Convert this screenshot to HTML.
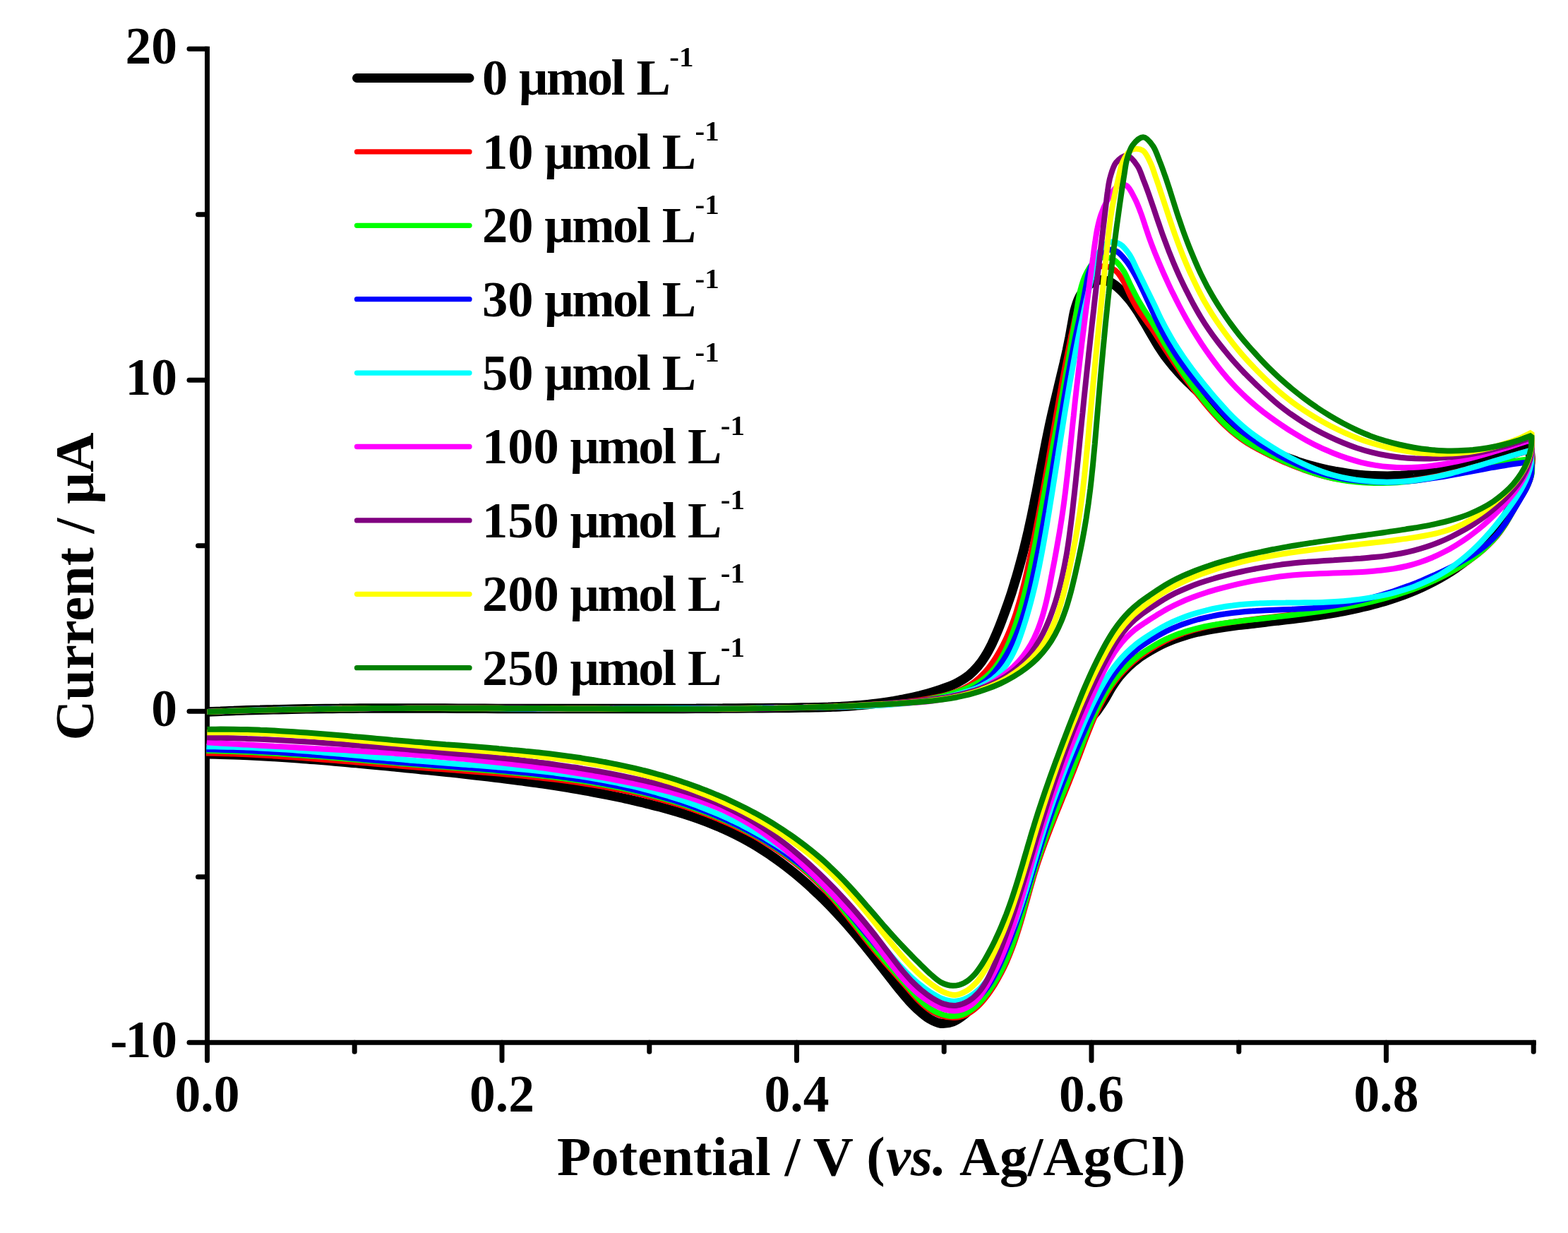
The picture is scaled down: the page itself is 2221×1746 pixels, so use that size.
<!DOCTYPE html>
<html><head><meta charset="utf-8"><title>Cyclic voltammograms</title>
<style>html,body{margin:0;padding:0;background:#fff}svg{display:block}</style></head>
<body>
<svg width="2221" height="1746" viewBox="0 0 2221 1746" font-family='"Liberation Serif", serif' font-weight="bold">
<rect width="2221" height="1746" fill="#fff"/>
<g stroke="#000" stroke-width="7" stroke-linecap="round" fill="none">
<path d="M293.5 69.29999999999995V1476.3H2172.25" stroke-linejoin="miter" stroke-linecap="square"/>
<path d="M293.5 69.3h-25.5"/>
<path d="M293.5 303.8h-13"/>
<path d="M293.5 538.3h-25.5"/>
<path d="M293.5 772.8h-13"/>
<path d="M293.5 1007.3h-25.5"/>
<path d="M293.5 1241.8h-13"/>
<path d="M293.5 1476.3h-25.5"/>
<path d="M293.5 1476.3v25.5"/>
<path d="M502.2 1476.3v13"/>
<path d="M711.0 1476.3v25.5"/>
<path d="M919.8 1476.3v13"/>
<path d="M1128.5 1476.3v25.5"/>
<path d="M1337.2 1476.3v13"/>
<path d="M1546.0 1476.3v25.5"/>
<path d="M1754.8 1476.3v13"/>
<path d="M1963.5 1476.3v25.5"/>
<path d="M2172.2 1476.3v13"/>
</g>
<g fill="none" stroke-linejoin="bevel" stroke-linecap="butt">
<path d="M293.5 1008.0C296.6 1007.9 305.9 1007.4 312.2 1007.2C318.4 1006.9 324.6 1006.7 330.8 1006.5C337.1 1006.2 343.3 1006.0 349.5 1005.8C355.7 1005.6 362.0 1005.4 368.2 1005.3C374.4 1005.1 380.7 1004.9 386.9 1004.8C393.1 1004.6 399.4 1004.5 405.6 1004.4C411.8 1004.2 418.1 1004.1 424.3 1004.0C430.5 1003.9 436.8 1003.8 443.0 1003.7C449.3 1003.6 455.5 1003.6 461.7 1003.5C468.0 1003.4 474.2 1003.4 480.5 1003.3C486.7 1003.2 492.9 1003.2 499.2 1003.2C505.4 1003.1 511.7 1003.1 517.9 1003.1C524.2 1003.0 530.4 1003.0 536.6 1003.0C542.9 1003.0 549.1 1003.0 555.4 1003.0C561.6 1003.0 567.9 1003.0 574.1 1003.0C580.4 1003.0 586.6 1003.0 592.8 1003.0C599.1 1003.0 605.3 1003.0 611.6 1003.0C617.8 1003.1 624.1 1003.1 630.3 1003.1C636.6 1003.1 642.8 1003.1 649.1 1003.2C655.3 1003.2 661.5 1003.2 667.8 1003.2C674.0 1003.3 680.3 1003.3 686.5 1003.3C692.8 1003.3 699.0 1003.3 705.3 1003.4C711.5 1003.4 717.8 1003.4 724.0 1003.4C730.2 1003.4 736.5 1003.5 742.7 1003.5C749.0 1003.5 755.2 1003.5 761.5 1003.5C767.7 1003.5 773.9 1003.5 780.2 1003.6C786.4 1003.6 792.7 1003.6 798.9 1003.6C805.2 1003.6 811.4 1003.6 817.6 1003.6C823.9 1003.6 830.1 1003.6 836.4 1003.6C842.6 1003.6 848.9 1003.6 855.1 1003.6C861.3 1003.6 867.6 1003.6 873.8 1003.6C880.1 1003.6 886.3 1003.6 892.5 1003.6C898.8 1003.5 905.0 1003.5 911.3 1003.5C917.5 1003.5 923.8 1003.5 930.0 1003.5C936.2 1003.5 942.5 1003.4 948.7 1003.4C955.0 1003.4 961.2 1003.4 967.4 1003.4C973.7 1003.3 979.9 1003.3 986.2 1003.3C992.4 1003.2 998.7 1003.2 1004.9 1003.2C1011.1 1003.2 1017.4 1003.1 1023.6 1003.1C1029.9 1003.0 1036.1 1003.0 1042.4 1003.0C1048.6 1002.9 1054.8 1002.9 1061.1 1002.8C1067.3 1002.8 1073.6 1002.7 1079.8 1002.7C1086.1 1002.6 1092.3 1002.6 1098.5 1002.5C1104.8 1002.5 1111.0 1002.4 1117.3 1002.4C1123.5 1002.3 1129.8 1002.2 1136.0 1002.1C1142.2 1002.1 1148.5 1002.0 1154.7 1001.8C1161.0 1001.7 1167.2 1001.5 1173.4 1001.3C1179.7 1001.0 1185.9 1000.8 1192.1 1000.4C1198.3 1000.1 1204.5 999.7 1210.7 999.2C1217.0 998.8 1223.2 998.2 1229.3 997.6C1235.5 997.0 1241.7 996.2 1247.9 995.4C1254.1 994.6 1260.2 993.7 1266.4 992.7C1272.5 991.6 1278.7 990.5 1284.8 989.2C1290.9 987.9 1297.0 986.5 1303.1 985.0C1309.2 983.4 1315.3 981.8 1321.4 979.9C1327.4 978.1 1333.6 976.2 1339.5 973.9C1345.4 971.7 1351.4 969.3 1356.8 966.4C1362.3 963.5 1367.5 960.2 1372.2 956.5C1376.9 952.7 1381.2 948.3 1385.1 943.7C1389.0 939.1 1392.5 934.0 1395.8 928.7C1399.1 923.5 1402.0 917.8 1404.8 912.2C1407.6 906.5 1410.1 900.6 1412.6 894.7C1415.1 888.8 1417.4 882.8 1419.6 876.9C1421.9 871.0 1424.0 865.1 1426.1 859.1C1428.2 853.2 1430.2 847.3 1432.2 841.4C1434.1 835.4 1435.9 829.5 1437.7 823.6C1439.5 817.6 1441.3 811.7 1442.9 805.7C1444.6 799.8 1446.2 793.8 1447.8 787.8C1449.4 781.8 1450.9 775.8 1452.3 769.8C1453.8 763.8 1455.2 757.8 1456.6 751.7C1457.9 745.7 1459.3 739.6 1460.6 733.5C1461.9 727.4 1463.1 721.2 1464.4 715.1C1465.6 708.9 1466.8 702.8 1468.1 696.6C1469.3 690.5 1470.5 684.3 1471.6 678.1C1472.8 671.9 1474.0 665.7 1475.2 659.5C1476.4 653.4 1477.6 647.2 1478.8 641.0C1480.0 634.9 1481.2 628.7 1482.4 622.6C1483.7 616.4 1484.9 610.3 1486.2 604.2C1487.5 598.1 1488.8 592.1 1490.2 586.0C1491.6 580.0 1493.0 574.0 1494.4 568.0C1495.8 562.0 1497.3 556.0 1498.7 550.0C1500.1 544.0 1501.6 538.1 1503.0 532.0C1504.5 526.0 1505.9 520.0 1507.3 514.0C1508.7 507.9 1510.1 501.9 1511.4 495.8C1512.7 489.6 1514.0 483.5 1515.2 477.3C1516.4 471.0 1517.4 464.7 1518.6 458.4C1519.8 452.1 1520.7 445.6 1522.3 439.5C1524.0 433.3 1525.7 427.1 1528.6 421.5C1531.5 415.9 1535.2 410.0 1539.6 406.0C1544.0 401.9 1549.6 398.2 1555.0 397.0C1560.3 395.9 1566.4 397.0 1571.8 399.3C1577.1 401.5 1582.4 406.1 1587.1 410.4C1591.8 414.7 1596.1 420.0 1600.1 424.9C1604.1 429.9 1607.6 435.1 1611.1 440.3C1614.5 445.5 1617.6 450.9 1620.8 456.1C1624.0 461.4 1626.9 466.6 1630.1 472.0C1633.3 477.4 1636.4 483.0 1639.8 488.5C1643.3 493.9 1646.9 499.4 1650.7 504.7C1654.6 509.9 1658.7 514.9 1662.8 519.9C1667.0 524.8 1671.4 529.7 1675.8 534.3C1680.2 538.9 1684.7 543.1 1689.2 547.5C1693.7 551.8 1698.2 556.1 1702.7 560.4C1707.1 564.8 1711.6 569.2 1715.8 573.7C1720.1 578.3 1724.2 583.0 1728.4 587.6C1732.5 592.2 1736.4 597.1 1740.6 601.5C1744.7 606.0 1748.9 610.4 1753.5 614.2C1758.0 618.0 1762.9 621.4 1768.0 624.4C1773.1 627.3 1778.6 629.5 1784.1 632.0C1789.6 634.5 1795.4 636.9 1801.1 639.3C1806.8 641.8 1812.7 644.3 1818.5 646.6C1824.4 648.9 1830.3 651.0 1836.3 653.0C1842.2 655.1 1848.2 656.9 1854.3 658.7C1860.3 660.4 1866.4 662.0 1872.5 663.5C1878.6 665.0 1884.7 666.3 1890.9 667.5C1897.0 668.6 1903.2 669.6 1909.4 670.4C1915.6 671.3 1921.8 672.0 1928.0 672.6C1934.3 673.1 1940.5 673.6 1946.7 673.8C1953.0 674.1 1959.2 674.2 1965.4 674.2C1971.7 674.1 1977.9 673.9 1984.1 673.6C1990.3 673.2 1996.5 672.6 2002.7 671.9C2008.9 671.2 2015.0 670.3 2021.2 669.3C2027.3 668.2 2033.4 667.0 2039.5 665.7C2045.6 664.4 2051.7 663.0 2057.8 661.5C2063.8 660.0 2069.9 658.3 2075.9 656.7C2082.0 655.0 2088.0 653.3 2094.0 651.5C2100.0 649.8 2106.1 647.9 2112.1 646.2C2118.1 644.4 2124.1 642.6 2130.1 640.8C2136.1 639.1 2142.0 637.3 2148.0 635.6C2154.0 634.0 2163.0 631.6 2166.0 630.8L2166.0 630.8C2166.3 634.1 2168.2 644.4 2168.0 650.8C2167.8 657.2 2166.5 663.2 2164.8 669.1C2163.2 675.0 2160.6 680.6 2158.0 686.3C2155.3 691.9 2152.1 697.3 2149.0 702.8C2145.9 708.3 2142.6 713.8 2139.4 719.2C2136.2 724.7 2133.1 730.2 2129.7 735.6C2126.3 740.9 2122.9 746.3 2119.1 751.3C2115.3 756.4 2111.2 761.3 2107.0 766.1C2102.7 770.8 2098.2 775.3 2093.5 779.7C2088.8 784.1 2083.9 788.3 2078.9 792.3C2073.9 796.3 2068.7 800.1 2063.4 803.8C2058.1 807.4 2052.7 810.9 2047.3 814.2C2041.8 817.5 2036.3 820.6 2030.7 823.5C2025.1 826.4 2019.5 829.2 2013.8 831.8C2008.1 834.4 2002.3 836.9 1996.5 839.2C1990.7 841.5 1984.9 843.7 1979.0 845.7C1973.1 847.8 1967.2 849.7 1961.2 851.5C1955.2 853.2 1949.2 854.9 1943.1 856.5C1937.1 858.1 1931.0 859.5 1924.9 860.9C1918.7 862.3 1912.6 863.6 1906.4 864.8C1900.2 866.1 1894.0 867.2 1887.7 868.3C1881.5 869.3 1875.2 870.3 1868.9 871.3C1862.6 872.3 1856.3 873.1 1849.9 874.0C1843.6 874.9 1837.2 875.7 1830.9 876.5C1824.5 877.3 1818.1 878.0 1811.7 878.8C1805.4 879.5 1798.9 880.2 1792.5 881.0C1786.1 881.7 1779.7 882.4 1773.3 883.2C1766.9 883.9 1760.5 884.6 1754.1 885.4C1747.6 886.3 1741.2 887.1 1734.9 888.0C1728.5 888.9 1722.1 889.9 1715.8 891.0C1709.6 892.2 1703.3 893.4 1697.1 894.8C1691.0 896.3 1684.8 897.9 1678.8 899.7C1672.8 901.5 1666.9 903.4 1661.1 905.7C1655.3 908.0 1649.6 910.5 1644.0 913.2C1638.5 916.0 1633.0 919.1 1627.7 922.2C1622.5 925.4 1617.3 928.5 1612.4 932.2C1607.4 935.8 1602.6 939.8 1598.1 944.1C1593.6 948.5 1589.1 953.2 1585.2 958.1C1581.3 963.0 1577.8 968.3 1574.5 973.5C1571.2 978.7 1568.5 984.2 1565.3 989.4C1562.1 994.6 1558.8 999.7 1555.3 1004.7C1551.7 1009.6 1547.5 1014.2 1543.9 1019.2C1540.3 1024.3 1536.9 1029.6 1533.7 1035.0C1530.5 1040.4 1527.7 1046.0 1524.9 1051.7C1522.1 1057.4 1519.6 1063.2 1517.1 1069.0C1514.6 1074.8 1512.2 1080.7 1509.9 1086.6C1507.5 1092.5 1505.3 1098.4 1503.1 1104.4C1500.9 1110.3 1498.8 1116.3 1496.7 1122.3C1494.6 1128.3 1492.6 1134.3 1490.6 1140.3C1488.6 1146.4 1486.6 1152.4 1484.7 1158.5C1482.8 1164.5 1480.9 1170.6 1479.0 1176.7C1477.2 1182.8 1475.3 1188.9 1473.5 1195.0C1471.6 1201.1 1469.8 1207.2 1468.0 1213.2C1466.2 1219.3 1464.4 1225.4 1462.5 1231.5C1460.7 1237.6 1458.8 1243.7 1457.0 1249.8C1455.1 1255.8 1453.2 1261.9 1451.3 1267.9C1449.4 1274.0 1447.4 1280.0 1445.4 1286.0C1443.4 1292.0 1441.4 1298.0 1439.3 1304.0C1437.2 1309.9 1435.1 1315.9 1432.9 1321.8C1430.6 1327.7 1428.4 1333.6 1425.9 1339.4C1423.5 1345.2 1421.1 1351.0 1418.4 1356.7C1415.8 1362.5 1413.1 1368.2 1410.2 1373.8C1407.3 1379.4 1404.3 1385.0 1401.0 1390.5C1397.8 1396.0 1394.5 1401.5 1390.8 1406.8C1387.2 1412.1 1383.6 1417.6 1379.4 1422.5C1375.3 1427.5 1370.9 1432.5 1366.0 1436.5C1361.0 1440.5 1355.4 1444.5 1349.9 1446.6C1344.3 1448.7 1338.3 1449.8 1332.7 1449.2C1327.1 1448.5 1321.5 1445.6 1316.2 1442.5C1310.9 1439.4 1305.8 1434.8 1301.0 1430.5C1296.2 1426.2 1291.7 1421.5 1287.3 1416.8C1283.0 1412.0 1278.9 1407.1 1274.9 1402.1C1270.8 1397.2 1266.9 1392.1 1263.0 1387.1C1259.1 1382.0 1255.2 1377.0 1251.3 1372.0C1247.3 1367.0 1243.4 1362.0 1239.5 1357.0C1235.6 1352.1 1231.6 1347.1 1227.6 1342.2C1223.6 1337.3 1219.7 1332.4 1215.6 1327.6C1211.6 1322.7 1207.5 1317.9 1203.3 1313.1C1199.2 1308.4 1195.0 1303.6 1190.7 1299.0C1186.5 1294.3 1182.2 1289.7 1177.8 1285.1C1173.4 1280.5 1168.9 1276.0 1164.4 1271.5C1159.8 1267.1 1155.2 1262.7 1150.5 1258.4C1145.9 1254.1 1141.1 1249.8 1136.3 1245.7C1131.5 1241.5 1126.6 1237.4 1121.7 1233.5C1116.7 1229.5 1111.7 1225.6 1106.6 1221.8C1101.5 1218.0 1096.3 1214.3 1091.1 1210.8C1085.9 1207.2 1080.5 1203.7 1075.2 1200.4C1069.8 1197.1 1064.4 1193.8 1058.9 1190.8C1053.3 1187.7 1047.8 1184.7 1042.1 1181.9C1036.5 1179.1 1030.8 1176.4 1025.0 1173.8C1019.2 1171.2 1013.4 1168.8 1007.5 1166.4C1001.6 1164.1 995.7 1161.9 989.7 1159.7C983.8 1157.6 977.7 1155.5 971.7 1153.6C965.6 1151.6 959.6 1149.8 953.5 1148.0C947.3 1146.2 941.2 1144.5 935.1 1142.8C928.9 1141.2 922.7 1139.6 916.5 1138.1C910.4 1136.6 904.2 1135.1 898.0 1133.7C891.8 1132.2 885.6 1130.9 879.4 1129.5C873.1 1128.2 866.9 1126.9 860.7 1125.6C854.5 1124.4 848.3 1123.2 842.0 1122.0C835.8 1120.8 829.6 1119.7 823.3 1118.6C817.1 1117.5 810.8 1116.4 804.6 1115.4C798.3 1114.4 792.1 1113.4 785.8 1112.4C779.6 1111.5 773.3 1110.5 767.0 1109.6C760.8 1108.7 754.5 1107.8 748.2 1107.0C741.9 1106.1 735.7 1105.3 729.4 1104.5C723.1 1103.7 716.8 1102.9 710.5 1102.1C704.2 1101.3 697.9 1100.6 691.6 1099.8C685.4 1099.1 679.1 1098.4 672.8 1097.7C666.5 1097.0 660.2 1096.3 653.9 1095.6C647.6 1094.9 641.3 1094.2 634.9 1093.6C628.6 1092.9 622.3 1092.3 616.0 1091.6C609.7 1091.0 603.4 1090.3 597.1 1089.7C590.8 1089.0 584.5 1088.4 578.2 1087.8C571.9 1087.1 565.5 1086.5 559.2 1085.9C552.9 1085.2 546.6 1084.6 540.3 1084.0C534.0 1083.4 527.7 1082.8 521.3 1082.2C515.0 1081.6 508.7 1081.0 502.4 1080.4C496.1 1079.9 489.7 1079.3 483.4 1078.7C477.1 1078.2 470.8 1077.6 464.5 1077.1C458.1 1076.6 451.8 1076.1 445.5 1075.6C439.2 1075.1 432.8 1074.6 426.5 1074.2C420.2 1073.7 413.9 1073.3 407.5 1072.8C401.2 1072.4 394.9 1072.0 388.5 1071.6C382.2 1071.2 375.9 1070.9 369.5 1070.5C363.2 1070.2 356.9 1069.9 350.5 1069.6C344.2 1069.3 337.9 1069.0 331.5 1068.8C325.2 1068.6 318.9 1068.4 312.5 1068.2C306.2 1068.0 296.7 1067.8 293.5 1067.7" stroke="#000000" stroke-width="13.5"/>
<path d="M293.5 1008.0C296.7 1007.9 306.2 1007.5 312.6 1007.2C319.0 1007.0 325.4 1006.7 331.7 1006.5C338.1 1006.3 344.5 1006.1 350.8 1005.9C357.2 1005.7 363.6 1005.5 370.0 1005.3C376.3 1005.2 382.7 1005.0 389.1 1004.8C395.5 1004.7 401.9 1004.6 408.2 1004.4C414.6 1004.3 421.0 1004.2 427.4 1004.1C433.7 1004.0 440.1 1003.9 446.5 1003.8C452.9 1003.7 459.3 1003.6 465.7 1003.5C472.0 1003.4 478.4 1003.4 484.8 1003.3C491.2 1003.3 497.6 1003.2 503.9 1003.2C510.3 1003.1 516.7 1003.1 523.1 1003.0C529.5 1003.0 535.9 1003.0 542.3 1003.0C548.6 1003.0 555.0 1002.9 561.4 1002.9C567.8 1002.9 574.2 1002.9 580.6 1002.9C587.0 1002.9 593.3 1002.9 599.7 1002.9C606.1 1002.9 612.5 1002.9 618.9 1003.0C625.3 1003.0 631.7 1003.0 638.1 1003.0C644.4 1003.0 650.8 1003.0 657.2 1003.1C663.6 1003.1 670.0 1003.1 676.4 1003.1C682.8 1003.2 689.2 1003.2 695.6 1003.2C702.0 1003.2 708.3 1003.3 714.7 1003.3C721.1 1003.3 727.5 1003.3 733.9 1003.4C740.3 1003.4 746.7 1003.4 753.1 1003.4C759.5 1003.5 765.9 1003.5 772.2 1003.5C778.6 1003.5 785.0 1003.5 791.4 1003.6C797.8 1003.6 804.2 1003.6 810.6 1003.6C817.0 1003.6 823.4 1003.6 829.8 1003.7C836.2 1003.7 842.5 1003.7 848.9 1003.7C855.3 1003.7 861.7 1003.7 868.1 1003.7C874.5 1003.7 880.9 1003.7 887.3 1003.7C893.7 1003.7 900.0 1003.7 906.4 1003.7C912.8 1003.7 919.2 1003.7 925.6 1003.7C932.0 1003.7 938.4 1003.7 944.8 1003.6C951.1 1003.6 957.5 1003.6 963.9 1003.6C970.3 1003.5 976.7 1003.5 983.1 1003.5C989.5 1003.4 995.8 1003.4 1002.2 1003.4C1008.6 1003.3 1015.0 1003.3 1021.4 1003.2C1027.8 1003.2 1034.1 1003.1 1040.5 1003.1C1046.9 1003.0 1053.3 1002.9 1059.7 1002.9C1066.1 1002.8 1072.4 1002.7 1078.8 1002.7C1085.2 1002.6 1091.6 1002.5 1097.9 1002.4C1104.3 1002.3 1110.7 1002.2 1117.1 1002.1C1123.5 1002.0 1129.8 1001.9 1136.2 1001.8C1142.6 1001.7 1149.0 1001.6 1155.3 1001.4C1161.7 1001.3 1168.1 1001.2 1174.4 1001.0C1180.8 1000.8 1187.2 1000.7 1193.6 1000.5C1199.9 1000.2 1206.3 1000.0 1212.7 999.7C1219.1 999.4 1225.4 999.1 1231.8 998.7C1238.2 998.3 1244.6 997.9 1251.0 997.3C1257.3 996.8 1263.7 996.2 1270.1 995.6C1276.5 994.9 1282.9 994.2 1289.3 993.3C1295.7 992.5 1302.1 991.6 1308.5 990.5C1314.9 989.4 1321.4 988.4 1327.7 987.0C1334.0 985.6 1340.3 984.1 1346.4 982.2C1352.4 980.3 1358.4 978.1 1364.0 975.4C1369.6 972.7 1375.0 969.5 1380.0 965.8C1385.0 962.1 1389.6 957.7 1393.9 953.1C1398.3 948.5 1402.2 943.3 1405.9 938.1C1409.7 932.8 1413.0 927.2 1416.2 921.6C1419.4 916.0 1422.3 910.3 1425.0 904.5C1427.7 898.7 1430.1 892.8 1432.4 886.9C1434.7 881.0 1436.8 875.0 1438.8 868.9C1440.7 862.9 1442.5 856.8 1444.3 850.7C1446.0 844.5 1447.6 838.3 1449.1 832.2C1450.7 826.0 1452.1 819.7 1453.6 813.5C1455.0 807.3 1456.4 801.0 1457.7 794.8C1459.1 788.5 1460.4 782.3 1461.8 776.0C1463.1 769.7 1464.3 763.5 1465.6 757.2C1466.9 750.9 1468.1 744.6 1469.3 738.3C1470.5 732.0 1471.7 725.7 1472.9 719.4C1474.1 713.1 1475.2 706.8 1476.3 700.5C1477.5 694.2 1478.6 687.9 1479.7 681.6C1480.9 675.3 1482.0 669.0 1483.1 662.7C1484.2 656.4 1485.3 650.1 1486.3 643.8C1487.4 637.5 1488.5 631.2 1489.6 624.9C1490.7 618.6 1491.8 612.3 1492.9 606.0C1494.0 599.7 1495.1 593.4 1496.2 587.1C1497.3 580.8 1498.4 574.5 1499.5 568.3C1500.6 562.0 1501.7 555.7 1502.9 549.5C1504.0 543.2 1505.1 537.0 1506.3 530.7C1507.5 524.5 1508.7 518.3 1509.9 512.1C1511.1 505.9 1512.3 499.7 1513.6 493.5C1514.8 487.3 1516.1 481.1 1517.4 474.9C1518.7 468.8 1520.0 462.7 1521.4 456.5C1522.8 450.3 1524.1 444.2 1525.7 437.9C1527.3 431.6 1528.8 425.1 1530.7 418.6C1532.6 412.0 1534.3 404.5 1537.0 398.5C1539.8 392.5 1542.7 386.0 1547.1 382.4C1551.5 378.9 1557.9 376.9 1563.4 377.0C1568.9 377.2 1575.5 379.7 1580.2 383.3C1584.9 387.0 1588.3 393.3 1591.7 399.0C1595.1 404.8 1597.5 412.0 1600.6 418.0C1603.6 424.0 1606.7 429.7 1610.0 435.1C1613.3 440.5 1616.8 445.3 1620.3 450.3C1623.8 455.2 1627.4 459.5 1631.1 464.7C1634.7 469.9 1638.4 475.9 1642.1 481.6C1645.8 487.3 1649.5 493.2 1653.3 498.9C1657.0 504.6 1660.8 510.2 1664.6 515.8C1668.4 521.3 1672.2 526.8 1676.1 532.2C1680.0 537.6 1684.0 542.8 1688.0 548.0C1692.0 553.2 1696.0 558.4 1700.2 563.5C1704.3 568.6 1708.4 573.6 1712.7 578.5C1717.0 583.4 1721.3 588.3 1725.7 592.9C1730.1 597.6 1734.6 602.2 1739.2 606.4C1743.7 610.6 1748.4 614.5 1753.2 618.1C1757.9 621.7 1762.8 625.0 1767.7 628.2C1772.7 631.3 1777.8 634.0 1783.0 636.8C1788.2 639.6 1793.5 642.3 1798.9 645.0C1804.3 647.6 1809.9 650.3 1815.5 652.8C1821.2 655.3 1827.0 657.7 1832.8 660.1C1838.7 662.4 1844.7 664.7 1850.7 666.8C1856.8 668.9 1862.9 670.9 1869.1 672.7C1875.2 674.4 1881.5 676.0 1887.8 677.3C1894.1 678.5 1900.4 679.5 1906.8 680.4C1913.2 681.2 1919.6 681.8 1926.0 682.3C1932.4 682.7 1938.9 683.0 1945.3 683.1C1951.7 683.2 1958.2 683.2 1964.6 683.0C1971.0 682.7 1977.4 682.4 1983.8 681.8C1990.1 681.3 1996.5 680.6 2002.8 679.8C2009.1 678.9 2015.4 678.0 2021.7 676.9C2027.9 675.8 2034.2 674.6 2040.4 673.3C2046.6 672.0 2052.8 670.5 2059.0 669.1C2065.2 667.6 2071.4 666.0 2077.5 664.3C2083.7 662.7 2089.8 661.0 2096.0 659.3C2102.1 657.5 2108.2 655.7 2114.4 653.9C2120.5 652.1 2126.6 650.2 2132.7 648.4C2138.9 646.5 2145.0 644.6 2151.1 642.8C2157.2 640.9 2166.4 638.2 2169.5 637.3L2169.5 637.3C2169.7 640.5 2170.6 650.5 2170.4 656.8C2170.2 663.2 2169.9 669.6 2168.4 675.5C2166.9 681.5 2164.3 687.0 2161.5 692.6C2158.8 698.1 2155.1 703.3 2151.8 708.8C2148.6 714.3 2145.5 719.9 2142.3 725.4C2139.1 730.9 2136.1 736.6 2132.7 742.0C2129.2 747.3 2125.7 752.6 2121.7 757.5C2117.8 762.4 2113.4 767.1 2108.9 771.5C2104.4 776.0 2099.6 780.2 2094.6 784.2C2089.6 788.2 2084.4 792.0 2079.1 795.6C2073.8 799.2 2068.3 802.5 2062.8 805.8C2057.2 809.0 2051.5 812.0 2045.9 814.9C2040.2 817.8 2034.5 820.5 2028.7 823.1C2023.0 825.7 2017.2 828.1 2011.3 830.4C2005.5 832.6 1999.6 834.8 1993.7 836.8C1987.8 838.8 1981.9 840.7 1975.9 842.5C1969.9 844.3 1963.9 845.9 1957.9 847.5C1951.8 849.1 1945.7 850.6 1939.6 852.0C1933.5 853.4 1927.4 854.7 1921.3 855.9C1915.1 857.2 1908.9 858.4 1902.7 859.5C1896.5 860.6 1890.3 861.7 1884.0 862.7C1877.8 863.7 1871.5 864.6 1865.2 865.5C1858.9 866.4 1852.6 867.3 1846.3 868.1C1840.0 869.0 1833.6 869.8 1827.2 870.6C1820.9 871.4 1814.5 872.1 1808.1 872.9C1801.7 873.7 1795.3 874.5 1788.9 875.3C1782.5 876.1 1776.1 876.9 1769.7 877.7C1763.3 878.6 1756.8 879.4 1750.4 880.3C1744.0 881.2 1737.5 882.2 1731.2 883.3C1724.8 884.4 1718.4 885.6 1712.1 886.9C1705.8 888.3 1699.6 889.8 1693.4 891.5C1687.3 893.2 1681.2 895.0 1675.3 897.1C1669.3 899.2 1663.5 901.5 1657.8 904.1C1652.1 906.6 1646.5 909.6 1641.1 912.7C1635.7 915.7 1630.4 919.1 1625.3 922.4C1620.3 925.7 1615.4 929.0 1610.7 932.7C1606.0 936.4 1601.6 940.4 1597.3 944.6C1593.0 948.7 1588.9 953.1 1585.0 957.7C1581.2 962.3 1577.5 967.2 1574.0 972.2C1570.6 977.3 1567.3 982.7 1564.3 988.1C1561.2 993.5 1558.4 999.0 1555.6 1004.6C1552.9 1010.1 1550.4 1015.6 1547.9 1021.3C1545.4 1027.1 1543.1 1033.0 1540.8 1038.9C1538.4 1044.7 1536.2 1050.6 1534.0 1056.5C1531.8 1062.4 1529.6 1068.4 1527.3 1074.3C1525.1 1080.2 1522.8 1086.1 1520.5 1092.0C1518.2 1097.9 1515.8 1103.8 1513.5 1109.7C1511.1 1115.6 1508.7 1121.5 1506.3 1127.4C1504.0 1133.2 1501.5 1139.1 1499.2 1145.0C1496.8 1150.9 1494.4 1156.8 1492.1 1162.7C1489.7 1168.7 1487.4 1174.6 1485.2 1180.5C1482.9 1186.5 1480.6 1192.4 1478.5 1198.4C1476.3 1204.3 1474.2 1210.3 1472.2 1216.3C1470.1 1222.3 1468.2 1228.4 1466.3 1234.4C1464.4 1240.5 1462.7 1246.5 1460.9 1252.6C1459.2 1258.7 1457.5 1264.8 1455.8 1270.9C1454.1 1277.0 1452.5 1283.1 1450.7 1289.2C1449.0 1295.3 1447.3 1301.3 1445.5 1307.4C1443.7 1313.4 1441.8 1319.5 1439.8 1325.5C1437.8 1331.5 1435.8 1337.4 1433.5 1343.4C1431.3 1349.3 1428.9 1355.1 1426.4 1361.0C1423.8 1366.8 1421.1 1372.5 1418.1 1378.2C1415.1 1383.9 1412.0 1389.5 1408.5 1395.1C1405.0 1400.6 1401.4 1406.2 1397.3 1411.3C1393.3 1416.4 1389.1 1421.6 1384.4 1425.8C1379.8 1429.9 1374.9 1433.8 1369.6 1436.3C1364.3 1438.9 1358.5 1440.7 1352.6 1441.0C1346.6 1441.4 1339.9 1440.3 1333.8 1438.4C1327.6 1436.5 1321.3 1433.2 1315.8 1429.6C1310.4 1426.1 1305.7 1421.4 1301.0 1416.9C1296.4 1412.4 1292.4 1407.3 1288.1 1402.5C1283.9 1397.7 1279.8 1392.9 1275.6 1388.2C1271.5 1383.5 1267.3 1378.8 1263.2 1374.1C1259.1 1369.5 1254.9 1364.8 1250.9 1360.1C1246.8 1355.4 1242.7 1350.7 1238.7 1345.8C1234.7 1341.0 1230.7 1336.1 1226.8 1331.1C1222.8 1326.1 1218.8 1321.1 1214.9 1316.0C1210.9 1311.0 1206.9 1305.9 1202.9 1300.9C1198.9 1295.9 1194.9 1290.8 1190.8 1285.9C1186.6 1280.9 1182.5 1276.0 1178.2 1271.2C1174.0 1266.4 1169.7 1261.7 1165.2 1257.1C1160.8 1252.6 1156.3 1248.1 1151.6 1243.8C1147.0 1239.5 1142.3 1235.4 1137.4 1231.3C1132.6 1227.2 1127.7 1223.3 1122.7 1219.5C1117.7 1215.7 1112.6 1212.0 1107.4 1208.4C1102.3 1204.9 1097.0 1201.4 1091.7 1198.1C1086.4 1194.7 1081.0 1191.5 1075.5 1188.3C1070.1 1185.2 1064.5 1182.2 1058.9 1179.3C1053.4 1176.4 1047.7 1173.6 1042.0 1170.8C1036.3 1168.1 1030.5 1165.5 1024.7 1163.0C1018.9 1160.5 1013.0 1158.0 1007.1 1155.7C1001.2 1153.4 995.3 1151.1 989.3 1149.0C983.3 1146.8 977.3 1144.7 971.3 1142.8C965.2 1140.8 959.1 1138.9 953.0 1137.0C946.9 1135.2 940.8 1133.5 934.6 1131.8C928.5 1130.1 922.3 1128.5 916.1 1127.0C909.9 1125.5 903.7 1124.0 897.5 1122.6C891.3 1121.2 885.1 1119.9 878.9 1118.6C872.6 1117.3 866.4 1116.1 860.2 1115.0C854.0 1113.8 847.7 1112.7 841.5 1111.7C835.2 1110.7 829.0 1109.7 822.7 1108.7C816.4 1107.8 810.2 1106.9 803.9 1106.0C797.6 1105.2 791.4 1104.4 785.1 1103.6C778.8 1102.8 772.5 1102.1 766.2 1101.4C759.9 1100.7 753.6 1100.0 747.3 1099.4C741.1 1098.7 734.8 1098.1 728.4 1097.5C722.1 1096.9 715.8 1096.4 709.5 1095.8C703.2 1095.3 696.9 1094.7 690.6 1094.2C684.3 1093.7 678.0 1093.2 671.6 1092.7C665.3 1092.2 659.0 1091.7 652.7 1091.2C646.4 1090.8 640.0 1090.3 633.7 1089.8C627.4 1089.3 621.1 1088.9 614.8 1088.4C608.4 1087.9 602.1 1087.4 595.8 1086.9C589.5 1086.4 583.1 1085.9 576.8 1085.4C570.5 1084.9 564.2 1084.4 557.8 1083.8C551.5 1083.3 545.2 1082.8 538.9 1082.3C532.6 1081.7 526.2 1081.2 519.9 1080.6C513.6 1080.1 507.3 1079.6 501.0 1079.0C494.6 1078.5 488.3 1078.0 482.0 1077.5C475.7 1076.9 469.3 1076.4 463.0 1075.9C456.7 1075.4 450.4 1074.9 444.1 1074.4C437.7 1073.9 431.4 1073.5 425.1 1073.0C418.8 1072.6 412.4 1072.1 406.1 1071.7C399.8 1071.2 393.5 1070.8 387.1 1070.4C380.8 1070.0 374.5 1069.7 368.1 1069.3C361.8 1069.0 355.5 1068.6 349.2 1068.3C342.8 1068.0 336.5 1067.8 330.2 1067.5C323.8 1067.3 317.5 1067.0 311.2 1066.9C304.8 1066.7 295.3 1066.5 292.1 1066.4" stroke="#ff0000" stroke-width="8"/>
<path d="M293.5 1008.0C296.7 1007.9 306.3 1007.4 312.8 1007.2C319.2 1006.9 325.6 1006.7 332.1 1006.4C338.5 1006.2 344.9 1006.0 351.3 1005.8C357.8 1005.6 364.2 1005.4 370.6 1005.2C377.1 1005.0 383.5 1004.9 389.9 1004.7C396.4 1004.6 402.8 1004.4 409.2 1004.3C415.7 1004.2 422.1 1004.1 428.5 1004.0C435.0 1003.8 441.4 1003.8 447.9 1003.7C454.3 1003.6 460.7 1003.5 467.2 1003.4C473.6 1003.4 480.1 1003.3 486.5 1003.3C492.9 1003.2 499.4 1003.2 505.8 1003.1C512.3 1003.1 518.7 1003.1 525.1 1003.0C531.6 1003.0 538.0 1003.0 544.5 1003.0C550.9 1003.0 557.4 1003.0 563.8 1003.0C570.2 1003.0 576.7 1003.0 583.1 1003.0C589.6 1003.0 596.0 1003.0 602.5 1003.0C608.9 1003.0 615.4 1003.1 621.8 1003.1C628.3 1003.1 634.7 1003.1 641.1 1003.2C647.6 1003.2 654.0 1003.2 660.5 1003.2C666.9 1003.3 673.4 1003.3 679.8 1003.3C686.3 1003.3 692.7 1003.4 699.2 1003.4C705.6 1003.4 712.1 1003.4 718.5 1003.5C725.0 1003.5 731.4 1003.5 737.9 1003.5C744.3 1003.5 750.7 1003.6 757.2 1003.6C763.6 1003.6 770.1 1003.6 776.5 1003.6C783.0 1003.6 789.4 1003.6 795.9 1003.6C802.3 1003.6 808.8 1003.6 815.2 1003.6C821.7 1003.6 828.1 1003.6 834.5 1003.6C841.0 1003.6 847.4 1003.6 853.9 1003.6C860.3 1003.5 866.8 1003.5 873.2 1003.5C879.7 1003.5 886.1 1003.5 892.5 1003.5C899.0 1003.4 905.4 1003.4 911.9 1003.4C918.3 1003.4 924.7 1003.4 931.2 1003.3C937.6 1003.3 944.1 1003.3 950.5 1003.3C957.0 1003.3 963.4 1003.2 969.8 1003.2C976.3 1003.2 982.7 1003.2 989.1 1003.1C995.6 1003.1 1002.0 1003.1 1008.5 1003.1C1014.9 1003.1 1021.3 1003.0 1027.8 1003.0C1034.2 1003.0 1040.6 1003.0 1047.1 1002.9C1053.5 1002.9 1059.9 1002.9 1066.4 1002.8C1072.8 1002.8 1079.3 1002.7 1085.7 1002.7C1092.1 1002.6 1098.6 1002.6 1105.0 1002.5C1111.5 1002.4 1117.9 1002.4 1124.4 1002.3C1130.8 1002.2 1137.2 1002.1 1143.7 1002.0C1150.2 1001.9 1156.6 1001.8 1163.1 1001.6C1169.5 1001.5 1176.0 1001.3 1182.4 1001.2C1188.9 1001.0 1195.4 1000.8 1201.8 1000.6C1208.3 1000.4 1214.8 1000.2 1221.2 999.9C1227.7 999.7 1234.2 999.4 1240.6 999.0C1247.1 998.6 1253.5 998.2 1260.0 997.7C1266.4 997.1 1272.8 996.5 1279.2 995.8C1285.6 995.1 1292.0 994.2 1298.4 993.2C1304.7 992.2 1311.1 991.1 1317.4 989.8C1323.7 988.6 1330.0 987.1 1336.2 985.5C1342.4 983.9 1348.7 982.1 1354.8 980.0C1360.9 978.0 1367.1 975.8 1372.9 973.1C1378.6 970.5 1384.3 967.6 1389.5 964.1C1394.6 960.5 1399.3 956.5 1403.6 952.0C1407.9 947.5 1411.7 942.4 1415.2 937.1C1418.7 931.8 1421.7 926.0 1424.6 920.1C1427.5 914.2 1430.0 908.0 1432.4 901.8C1434.8 895.6 1437.0 889.3 1439.1 883.0C1441.2 876.7 1443.1 870.4 1445.0 864.1C1446.8 857.8 1448.5 851.5 1450.1 845.2C1451.8 838.9 1453.3 832.6 1454.8 826.3C1456.3 820.0 1457.6 813.7 1459.0 807.4C1460.3 801.1 1461.6 794.8 1462.8 788.5C1464.0 782.3 1465.2 776.0 1466.4 769.7C1467.5 763.4 1468.7 757.1 1469.8 750.8C1471.0 744.5 1472.1 738.2 1473.2 731.9C1474.3 725.7 1475.5 719.4 1476.6 713.1C1477.8 706.8 1478.9 700.5 1480.1 694.2C1481.2 687.9 1482.4 681.6 1483.5 675.3C1484.7 669.0 1485.8 662.7 1487.0 656.4C1488.1 650.1 1489.3 643.8 1490.4 637.5C1491.6 631.2 1492.7 624.9 1493.9 618.6C1495.0 612.3 1496.2 605.9 1497.3 599.6C1498.5 593.3 1499.6 587.0 1500.8 580.6C1501.9 574.3 1503.0 567.9 1504.2 561.6C1505.3 555.2 1506.4 548.9 1507.6 542.5C1508.7 536.2 1509.8 529.8 1510.9 523.4C1512.1 517.0 1513.2 510.7 1514.3 504.3C1515.4 497.9 1516.5 491.5 1517.6 485.1C1518.6 478.6 1519.7 472.2 1520.8 465.8C1521.9 459.4 1522.9 452.9 1524.0 446.5C1525.1 440.0 1526.0 433.5 1527.2 427.1C1528.3 420.7 1529.3 414.2 1531.1 407.9C1532.8 401.6 1534.6 395.3 1537.5 389.4C1540.3 383.6 1543.8 377.0 1548.1 372.8C1552.3 368.7 1557.8 365.1 1563.0 364.4C1568.2 363.8 1574.6 365.8 1579.4 369.1C1584.2 372.3 1588.1 378.3 1591.7 383.9C1595.3 389.6 1597.9 396.9 1601.0 403.1C1604.0 409.3 1607.0 415.4 1610.2 421.1C1613.3 426.8 1616.6 432.1 1619.9 437.5C1623.2 442.8 1626.5 447.5 1629.9 453.0C1633.4 458.5 1636.8 464.5 1640.3 470.5C1643.8 476.4 1647.3 482.8 1650.9 488.8C1654.5 494.8 1658.1 500.6 1661.8 506.4C1665.4 512.2 1669.2 518.0 1672.9 523.7C1676.7 529.3 1680.6 534.7 1684.5 540.1C1688.4 545.5 1692.4 550.9 1696.4 556.1C1700.5 561.4 1704.6 566.6 1708.8 571.7C1713.0 576.8 1717.3 581.8 1721.6 586.6C1726.0 591.4 1730.5 596.2 1735.0 600.6C1739.5 605.0 1744.2 609.3 1748.9 613.2C1753.7 617.0 1758.5 620.5 1763.4 623.8C1768.4 627.1 1773.4 630.1 1778.6 633.0C1783.7 635.9 1789.0 638.6 1794.4 641.4C1799.8 644.1 1805.3 646.9 1810.9 649.6C1816.5 652.2 1822.3 654.8 1828.1 657.2C1833.9 659.7 1839.9 662.2 1845.9 664.5C1851.9 666.8 1858.0 669.0 1864.2 671.0C1870.3 672.9 1876.6 674.7 1882.8 676.2C1889.1 677.8 1895.5 679.0 1901.8 680.0C1908.2 681.1 1914.6 681.8 1921.1 682.5C1927.5 683.1 1934.0 683.5 1940.4 683.8C1946.9 684.1 1953.4 684.1 1959.8 684.0C1966.3 683.9 1972.8 683.6 1979.2 683.2C1985.6 682.7 1992.0 682.1 1998.4 681.3C2004.8 680.5 2011.2 679.5 2017.5 678.5C2023.9 677.5 2030.2 676.3 2036.5 675.1C2042.9 673.9 2049.2 672.5 2055.5 671.2C2061.8 669.8 2068.1 668.4 2074.4 667.0C2080.7 665.7 2087.0 664.2 2093.3 662.9C2099.6 661.5 2105.9 660.1 2112.2 658.9C2118.6 657.6 2124.9 656.4 2131.2 655.3C2137.6 654.2 2143.9 653.1 2150.3 652.3C2156.7 651.4 2166.3 650.4 2169.5 650.1L2169.5 650.1C2169.6 653.3 2170.8 663.4 2169.9 669.6C2169.1 675.7 2166.7 681.3 2164.2 686.9C2161.8 692.5 2158.3 697.8 2155.2 703.2C2152.1 708.7 2148.7 714.1 2145.5 719.6C2142.3 725.0 2139.4 730.7 2136.1 736.1C2132.8 741.4 2129.4 746.8 2125.7 751.9C2121.9 756.9 2117.9 761.7 2113.6 766.3C2109.2 770.9 2104.6 775.2 2099.8 779.4C2095.1 783.5 2090.0 787.5 2084.8 791.2C2079.7 795.0 2074.3 798.5 2068.9 801.9C2063.5 805.2 2057.9 808.4 2052.3 811.5C2046.8 814.5 2041.1 817.4 2035.4 820.1C2029.8 822.8 2024.0 825.4 2018.3 827.8C2012.5 830.2 2006.7 832.5 2000.9 834.7C1995.0 836.8 1989.2 838.8 1983.3 840.7C1977.4 842.7 1971.4 844.4 1965.4 846.1C1959.5 847.8 1953.5 849.4 1947.4 850.9C1941.4 852.4 1935.3 853.8 1929.2 855.1C1923.1 856.4 1917.0 857.7 1910.8 858.9C1904.7 860.1 1898.5 861.2 1892.3 862.2C1886.1 863.3 1879.9 864.3 1873.7 865.2C1867.4 866.1 1861.2 867.0 1854.9 867.9C1848.6 868.7 1842.3 869.5 1836.0 870.3C1829.7 871.1 1823.4 871.8 1817.0 872.6C1810.7 873.3 1804.3 874.0 1798.0 874.8C1791.6 875.5 1785.2 876.2 1778.8 876.9C1772.4 877.7 1766.0 878.4 1759.6 879.1C1753.2 879.9 1746.8 880.7 1740.4 881.6C1734.1 882.4 1727.7 883.4 1721.4 884.5C1715.0 885.6 1708.8 886.7 1702.6 888.1C1696.4 889.5 1690.2 891.0 1684.2 892.8C1678.2 894.6 1672.2 896.5 1666.4 898.7C1660.6 901.0 1654.9 903.4 1649.3 906.2C1643.8 908.9 1638.3 912.1 1633.1 915.2C1627.9 918.4 1622.8 921.6 1617.9 925.0C1613.0 928.5 1608.3 932.0 1603.8 935.9C1599.3 939.9 1595.0 944.2 1590.9 948.6C1586.8 953.0 1582.9 957.5 1579.2 962.3C1575.5 967.2 1571.9 972.4 1568.6 977.6C1565.3 982.8 1562.3 988.3 1559.3 993.7C1556.4 999.2 1553.7 1004.7 1551.0 1010.3C1548.4 1015.8 1545.9 1021.4 1543.5 1027.2C1541.1 1032.9 1538.8 1038.7 1536.5 1044.5C1534.3 1050.3 1532.1 1056.2 1529.8 1062.0C1527.6 1067.8 1525.4 1073.7 1523.1 1079.5C1520.9 1085.4 1518.6 1091.2 1516.3 1097.1C1514.0 1102.9 1511.6 1108.8 1509.3 1114.6C1507.0 1120.5 1504.6 1126.4 1502.2 1132.2C1499.9 1138.1 1497.5 1144.0 1495.2 1149.9C1492.9 1155.8 1490.5 1161.7 1488.3 1167.6C1486.0 1173.5 1483.7 1179.4 1481.5 1185.4C1479.3 1191.3 1477.2 1197.3 1475.1 1203.2C1473.0 1209.2 1471.0 1215.2 1469.0 1221.2C1467.1 1227.2 1465.2 1233.2 1463.4 1239.3C1461.6 1245.3 1459.9 1251.4 1458.2 1257.4C1456.5 1263.5 1454.9 1269.6 1453.2 1275.6C1451.5 1281.7 1449.9 1287.8 1448.1 1293.8C1446.4 1299.8 1444.7 1305.9 1442.8 1311.9C1441.0 1317.9 1439.1 1323.8 1437.0 1329.8C1435.0 1335.7 1432.8 1341.6 1430.5 1347.4C1428.2 1353.3 1425.7 1359.1 1423.0 1364.8C1420.3 1370.5 1417.5 1376.2 1414.4 1381.8C1411.2 1387.4 1407.9 1393.0 1404.3 1398.4C1400.7 1403.8 1396.8 1409.4 1392.6 1414.3C1388.4 1419.1 1383.9 1424.0 1379.1 1427.7C1374.3 1431.4 1369.2 1434.7 1363.7 1436.6C1358.3 1438.4 1352.3 1439.3 1346.3 1438.9C1340.3 1438.4 1333.7 1436.5 1327.8 1433.9C1322.0 1431.4 1316.2 1427.5 1311.1 1423.5C1306.0 1419.5 1301.6 1414.6 1297.1 1410.0C1292.6 1405.3 1288.5 1400.3 1284.3 1395.5C1280.1 1390.8 1275.9 1386.1 1271.8 1381.4C1267.6 1376.7 1263.5 1372.1 1259.5 1367.5C1255.4 1362.8 1251.4 1358.2 1247.4 1353.5C1243.4 1348.8 1239.4 1344.0 1235.5 1339.1C1231.5 1334.3 1227.6 1329.3 1223.6 1324.4C1219.7 1319.4 1215.8 1314.4 1211.8 1309.4C1207.8 1304.4 1203.9 1299.3 1199.8 1294.4C1195.8 1289.4 1191.7 1284.4 1187.6 1279.5C1183.4 1274.7 1179.2 1269.9 1174.9 1265.2C1170.6 1260.5 1166.3 1255.9 1161.8 1251.4C1157.3 1247.0 1152.7 1242.7 1148.0 1238.5C1143.3 1234.2 1138.5 1230.2 1133.7 1226.2C1128.8 1222.2 1123.9 1218.4 1118.9 1214.7C1113.8 1211.0 1108.7 1207.3 1103.5 1203.8C1098.4 1200.3 1093.1 1197.0 1087.8 1193.7C1082.5 1190.4 1077.1 1187.2 1071.6 1184.1C1066.1 1181.1 1060.6 1178.1 1055.0 1175.2C1049.5 1172.4 1043.8 1169.6 1038.1 1166.9C1032.4 1164.3 1026.7 1161.7 1020.9 1159.2C1015.1 1156.7 1009.3 1154.3 1003.4 1152.0C997.5 1149.7 991.6 1147.5 985.6 1145.4C979.7 1143.2 973.7 1141.2 967.7 1139.2C961.7 1137.2 955.6 1135.4 949.5 1133.5C943.5 1131.7 937.4 1130.0 931.2 1128.3C925.1 1126.7 919.0 1125.1 912.8 1123.6C906.7 1122.0 900.5 1120.6 894.4 1119.2C888.2 1117.8 882.0 1116.5 875.9 1115.2C869.7 1114.0 863.5 1112.8 857.3 1111.6C851.1 1110.5 844.9 1109.4 838.7 1108.3C832.4 1107.3 826.2 1106.3 820.0 1105.4C813.8 1104.4 807.5 1103.5 801.3 1102.7C795.1 1101.8 788.8 1101.0 782.6 1100.2C776.3 1099.4 770.1 1098.7 763.8 1098.0C757.6 1097.3 751.3 1096.6 745.0 1095.9C738.8 1095.3 732.5 1094.7 726.2 1094.1C720.0 1093.5 713.7 1092.9 707.4 1092.3C701.1 1091.8 694.9 1091.2 688.6 1090.7C682.3 1090.2 676.0 1089.7 669.7 1089.2C663.4 1088.7 657.1 1088.2 650.9 1087.7C644.6 1087.2 638.3 1086.7 632.0 1086.2C625.7 1085.7 619.4 1085.2 613.1 1084.7C606.8 1084.2 600.5 1083.7 594.3 1083.2C588.0 1082.7 581.7 1082.2 575.4 1081.7C569.1 1081.2 562.8 1080.6 556.5 1080.1C550.3 1079.6 544.0 1079.0 537.7 1078.5C531.4 1077.9 525.1 1077.4 518.8 1076.9C512.5 1076.3 506.3 1075.8 500.0 1075.3C493.7 1074.7 487.4 1074.2 481.1 1073.7C474.8 1073.2 468.6 1072.6 462.3 1072.1C456.0 1071.6 449.7 1071.1 443.4 1070.6C437.1 1070.2 430.8 1069.7 424.6 1069.2C418.3 1068.8 412.0 1068.4 405.7 1067.9C399.4 1067.5 393.1 1067.1 386.8 1066.7C380.5 1066.4 374.2 1066.0 367.9 1065.7C361.6 1065.3 355.3 1065.0 349.0 1064.7C342.7 1064.4 336.4 1064.2 330.1 1064.0C323.8 1063.7 317.5 1063.5 311.2 1063.4C304.9 1063.2 295.4 1063.0 292.3 1063.0" stroke="#00ff00" stroke-width="8"/>
<path d="M293.5 1008.0C296.7 1007.9 306.4 1007.5 312.9 1007.2C319.4 1007.0 325.9 1006.7 332.3 1006.5C338.8 1006.3 345.3 1006.1 351.7 1005.9C358.2 1005.7 364.7 1005.5 371.2 1005.3C377.6 1005.1 384.1 1005.0 390.6 1004.8C397.0 1004.7 403.5 1004.5 410.0 1004.4C416.5 1004.3 422.9 1004.2 429.4 1004.0C435.9 1003.9 442.4 1003.8 448.8 1003.7C455.3 1003.7 461.8 1003.6 468.2 1003.5C474.7 1003.4 481.2 1003.4 487.7 1003.3C494.1 1003.2 500.6 1003.2 507.1 1003.1C513.6 1003.1 520.0 1003.1 526.5 1003.0C533.0 1003.0 539.5 1003.0 545.9 1003.0C552.4 1002.9 558.9 1002.9 565.4 1002.9C571.8 1002.9 578.3 1002.9 584.8 1002.9C591.3 1002.9 597.8 1002.9 604.2 1002.9C610.7 1002.9 617.2 1002.9 623.7 1003.0C630.2 1003.0 636.6 1003.0 643.1 1003.0C649.6 1003.0 656.1 1003.0 662.6 1003.1C669.0 1003.1 675.5 1003.1 682.0 1003.1C688.5 1003.2 695.0 1003.2 701.5 1003.2C708.0 1003.2 714.4 1003.3 720.9 1003.3C727.4 1003.3 733.9 1003.3 740.4 1003.4C746.9 1003.4 753.4 1003.4 759.9 1003.4C766.4 1003.5 772.8 1003.5 779.3 1003.5C785.8 1003.5 792.3 1003.6 798.8 1003.6C805.3 1003.6 811.8 1003.6 818.3 1003.6C824.8 1003.6 831.3 1003.7 837.8 1003.7C844.2 1003.7 850.7 1003.7 857.2 1003.7C863.7 1003.7 870.2 1003.7 876.7 1003.7C883.2 1003.7 889.7 1003.7 896.2 1003.7C902.6 1003.7 909.1 1003.7 915.6 1003.7C922.1 1003.7 928.6 1003.7 935.1 1003.7C941.6 1003.7 948.0 1003.6 954.5 1003.6C961.0 1003.6 967.5 1003.6 974.0 1003.5C980.5 1003.5 986.9 1003.5 993.4 1003.4C999.9 1003.4 1006.4 1003.4 1012.8 1003.3C1019.3 1003.3 1025.8 1003.2 1032.3 1003.2C1038.7 1003.1 1045.2 1003.1 1051.7 1003.0C1058.1 1002.9 1064.6 1002.8 1071.1 1002.8C1077.5 1002.7 1084.0 1002.6 1090.5 1002.5C1096.9 1002.4 1103.4 1002.3 1109.8 1002.2C1116.3 1002.1 1122.8 1002.0 1129.2 1001.9C1135.7 1001.8 1142.1 1001.7 1148.6 1001.6C1155.0 1001.4 1161.5 1001.3 1167.9 1001.1C1174.4 1001.0 1180.8 1000.8 1187.2 1000.6C1193.7 1000.5 1200.1 1000.3 1206.6 1000.0C1213.1 999.8 1219.5 999.5 1226.0 999.2C1232.5 998.8 1239.0 998.5 1245.5 998.1C1251.9 997.7 1258.5 997.2 1265.0 996.7C1271.5 996.2 1278.0 995.6 1284.6 994.9C1291.1 994.3 1297.7 993.6 1304.3 992.8C1310.9 992.0 1317.5 991.2 1324.1 990.2C1330.7 989.2 1337.4 988.2 1343.9 986.8C1350.3 985.4 1356.8 983.9 1362.9 981.8C1369.0 979.8 1375.0 977.5 1380.5 974.6C1386.1 971.6 1391.3 968.2 1396.2 964.2C1401.0 960.2 1405.5 955.6 1409.6 950.7C1413.7 945.9 1417.5 940.5 1421.0 935.0C1424.5 929.6 1427.7 923.9 1430.7 918.1C1433.6 912.4 1436.3 906.5 1438.8 900.5C1441.3 894.6 1443.6 888.6 1445.7 882.5C1447.8 876.4 1449.7 870.2 1451.5 864.0C1453.3 857.8 1455.0 851.5 1456.5 845.2C1458.1 839.0 1459.5 832.6 1461.0 826.3C1462.4 819.9 1463.7 813.6 1465.1 807.2C1466.4 800.8 1467.7 794.4 1468.9 788.1C1470.2 781.7 1471.5 775.3 1472.7 768.9C1473.9 762.5 1475.1 756.1 1476.2 749.7C1477.4 743.3 1478.6 736.9 1479.7 730.4C1480.8 724.0 1481.9 717.6 1483.0 711.2C1484.1 704.8 1485.2 698.4 1486.3 692.0C1487.3 685.5 1488.4 679.1 1489.5 672.7C1490.5 666.3 1491.6 659.9 1492.6 653.5C1493.6 647.0 1494.7 640.6 1495.7 634.2C1496.8 627.8 1497.8 621.4 1498.8 615.0C1499.9 608.6 1500.9 602.2 1502.0 595.8C1503.0 589.4 1504.1 583.1 1505.2 576.7C1506.2 570.3 1507.3 563.9 1508.4 557.6C1509.5 551.2 1510.6 544.9 1511.7 538.5C1512.9 532.2 1514.0 525.9 1515.2 519.6C1516.3 513.2 1517.5 506.9 1518.7 500.6C1519.9 494.4 1521.2 488.1 1522.4 481.8C1523.7 475.5 1525.0 469.3 1526.3 463.0C1527.6 456.8 1529.0 450.6 1530.4 444.3C1531.7 438.0 1533.1 431.7 1534.4 425.2C1535.7 418.7 1536.9 411.9 1538.2 405.2C1539.6 398.5 1540.5 391.2 1542.7 384.8C1544.8 378.4 1547.2 371.7 1551.1 366.8C1554.9 361.8 1560.4 356.8 1565.5 355.0C1570.6 353.1 1576.7 353.3 1581.7 355.8C1586.7 358.3 1591.4 364.8 1595.6 370.1C1599.8 375.4 1603.5 381.8 1606.9 387.7C1610.3 393.6 1613.2 399.5 1616.1 405.4C1619.0 411.3 1621.6 417.2 1624.3 423.1C1627.1 429.0 1629.6 434.7 1632.5 440.8C1635.3 446.9 1638.3 453.6 1641.4 459.9C1644.5 466.2 1647.8 472.6 1651.2 478.7C1654.6 484.8 1658.1 490.6 1661.8 496.4C1665.4 502.2 1669.2 507.9 1673.1 513.4C1676.9 518.9 1680.9 524.1 1684.9 529.4C1689.0 534.6 1693.1 539.8 1697.3 544.9C1701.5 550.0 1705.7 555.1 1710.0 560.0C1714.3 565.0 1718.7 570.0 1723.0 574.8C1727.4 579.7 1731.8 584.6 1736.3 589.2C1740.7 593.8 1745.2 598.3 1749.8 602.5C1754.3 606.6 1759.0 610.5 1763.7 614.2C1768.4 617.9 1773.2 621.4 1778.2 624.7C1783.1 628.1 1788.2 631.2 1793.3 634.3C1798.5 637.5 1803.9 640.6 1809.3 643.6C1814.8 646.5 1820.4 649.4 1826.1 652.1C1831.8 654.9 1837.7 657.6 1843.6 660.1C1849.6 662.6 1855.7 665.0 1861.8 667.1C1867.9 669.3 1874.1 671.3 1880.4 673.0C1886.7 674.7 1893.1 676.1 1899.5 677.3C1905.9 678.6 1912.3 679.5 1918.8 680.2C1925.3 681.0 1931.8 681.6 1938.3 682.0C1944.8 682.4 1951.4 682.7 1957.9 682.7C1964.4 682.8 1971.0 682.7 1977.4 682.4C1983.9 682.2 1990.4 681.7 1996.9 681.2C2003.3 680.6 2009.7 679.9 2016.1 679.0C2022.6 678.2 2028.9 677.3 2035.3 676.3C2041.7 675.3 2048.0 674.2 2054.4 673.1C2060.8 672.0 2067.1 670.8 2073.5 669.6C2079.8 668.4 2086.2 667.2 2092.5 666.0C2098.9 664.8 2105.2 663.6 2111.6 662.4C2118.0 661.3 2124.4 660.2 2130.8 659.2C2137.2 658.1 2143.6 657.2 2150.1 656.3C2156.5 655.5 2166.3 654.5 2169.5 654.1L2169.5 654.1C2169.4 657.3 2170.0 667.2 2168.8 673.2C2167.7 679.2 2165.4 684.6 2162.9 690.1C2160.3 695.7 2157.0 700.9 2153.8 706.3C2150.6 711.8 2147.2 717.4 2143.8 722.9C2140.4 728.4 2137.1 734.2 2133.4 739.6C2129.8 744.9 2126.0 750.1 2122.0 754.9C2117.9 759.7 2113.6 764.0 2109.1 768.2C2104.6 772.3 2099.9 776.0 2095.0 779.6C2090.1 783.2 2085.0 786.5 2079.9 789.7C2074.7 792.9 2069.3 795.8 2063.9 798.7C2058.5 801.6 2052.9 804.4 2047.3 807.1C2041.7 809.8 2036.0 812.5 2030.3 815.0C2024.5 817.6 2018.7 820.1 2012.8 822.6C2007.0 825.0 2001.0 827.3 1995.1 829.6C1989.1 831.8 1983.1 834.0 1977.1 836.0C1971.0 838.1 1964.9 840.0 1958.8 841.9C1952.7 843.7 1946.6 845.5 1940.5 847.1C1934.3 848.7 1928.2 850.2 1922.0 851.6C1915.8 853.0 1909.7 854.3 1903.5 855.4C1897.3 856.5 1891.2 857.5 1885.1 858.3C1878.9 859.2 1872.8 859.8 1866.7 860.4C1860.6 861.0 1854.5 861.4 1848.3 861.8C1842.2 862.2 1836.1 862.4 1830.0 862.7C1823.8 863.0 1817.7 863.2 1811.5 863.4C1805.4 863.7 1799.2 863.9 1792.9 864.2C1786.7 864.5 1780.5 864.8 1774.1 865.3C1767.8 865.7 1761.5 866.2 1755.1 866.9C1748.7 867.5 1742.2 868.3 1735.8 869.3C1729.4 870.2 1722.9 871.3 1716.6 872.6C1710.2 873.9 1703.8 875.4 1697.5 877.0C1691.3 878.7 1685.1 880.6 1679.0 882.7C1672.9 884.8 1666.9 887.0 1661.1 889.6C1655.3 892.1 1649.6 895.0 1644.2 897.9C1638.7 900.9 1633.4 904.2 1628.3 907.4C1623.3 910.6 1618.5 913.7 1613.9 917.1C1609.3 920.6 1604.9 924.2 1600.8 928.1C1596.6 932.0 1592.7 936.1 1588.9 940.5C1585.1 944.8 1581.6 949.3 1578.1 954.1C1574.7 958.9 1571.4 964.0 1568.3 969.3C1565.1 974.5 1562.1 980.0 1559.2 985.6C1556.2 991.1 1553.4 996.8 1550.7 1002.5C1547.9 1008.3 1545.3 1014.1 1542.6 1019.9C1540.0 1025.7 1537.4 1031.7 1534.9 1037.5C1532.3 1043.4 1529.8 1049.2 1527.4 1055.0C1524.9 1060.9 1522.5 1066.7 1520.1 1072.5C1517.7 1078.3 1515.3 1084.1 1513.0 1089.9C1510.7 1095.6 1508.4 1101.4 1506.1 1107.2C1503.9 1113.0 1501.7 1118.8 1499.5 1124.6C1497.3 1130.4 1495.2 1136.2 1493.1 1142.0C1491.0 1147.8 1488.9 1153.6 1486.9 1159.5C1484.9 1165.3 1482.9 1171.2 1480.9 1177.0C1479.0 1182.9 1477.1 1188.9 1475.2 1194.8C1473.3 1200.7 1471.5 1206.7 1469.6 1212.6C1467.8 1218.6 1466.0 1224.6 1464.2 1230.6C1462.3 1236.6 1460.5 1242.6 1458.7 1248.6C1456.8 1254.6 1455.0 1260.6 1453.1 1266.6C1451.2 1272.6 1449.3 1278.6 1447.3 1284.6C1445.4 1290.6 1443.4 1296.6 1441.3 1302.5C1439.2 1308.5 1437.1 1314.5 1434.9 1320.4C1432.7 1326.3 1430.5 1332.3 1428.1 1338.1C1425.8 1344.0 1423.3 1349.9 1420.8 1355.7C1418.3 1361.5 1415.7 1367.4 1412.9 1373.1C1410.1 1378.8 1407.2 1384.5 1403.9 1389.9C1400.6 1395.2 1397.2 1400.4 1393.1 1405.1C1389.1 1409.7 1384.6 1414.1 1379.5 1417.6C1374.5 1421.1 1368.6 1424.4 1362.8 1426.2C1357.1 1428.1 1350.7 1429.1 1344.8 1428.7C1338.8 1428.4 1332.7 1426.6 1327.2 1424.1C1321.6 1421.5 1316.4 1417.7 1311.4 1413.7C1306.5 1409.7 1301.9 1404.7 1297.4 1400.1C1292.8 1395.5 1288.5 1390.8 1284.1 1386.2C1279.8 1381.6 1275.5 1377.1 1271.3 1372.5C1267.0 1368.0 1262.9 1363.5 1258.8 1359.0C1254.6 1354.4 1250.5 1349.9 1246.5 1345.3C1242.4 1340.6 1238.4 1335.9 1234.4 1331.1C1230.3 1326.4 1226.3 1321.5 1222.3 1316.7C1218.3 1311.8 1214.2 1306.9 1210.2 1302.0C1206.1 1297.1 1202.0 1292.2 1197.8 1287.4C1193.7 1282.6 1189.5 1277.8 1185.2 1273.1C1181.0 1268.4 1176.6 1263.7 1172.2 1259.2C1167.8 1254.7 1163.3 1250.3 1158.7 1246.0C1154.1 1241.7 1149.4 1237.5 1144.7 1233.4C1139.9 1229.4 1135.1 1225.4 1130.1 1221.6C1125.2 1217.8 1120.2 1214.0 1115.1 1210.4C1110.1 1206.8 1104.9 1203.3 1099.7 1199.9C1094.5 1196.5 1089.2 1193.2 1083.9 1190.0C1078.5 1186.8 1073.1 1183.7 1067.7 1180.7C1062.2 1177.6 1056.7 1174.7 1051.1 1171.9C1045.5 1169.1 1039.9 1166.4 1034.2 1163.8C1028.5 1161.2 1022.8 1158.6 1017.1 1156.2C1011.3 1153.7 1005.5 1151.4 999.6 1149.1C993.8 1146.8 987.9 1144.7 982.0 1142.6C976.1 1140.5 970.1 1138.4 964.1 1136.5C958.2 1134.5 952.2 1132.7 946.1 1130.9C940.1 1129.1 934.0 1127.4 928.0 1125.8C921.9 1124.1 915.8 1122.6 909.7 1121.1C903.6 1119.6 897.5 1118.1 891.4 1116.8C885.2 1115.4 879.1 1114.1 872.9 1112.9C866.8 1111.6 860.6 1110.5 854.5 1109.3C848.3 1108.2 842.1 1107.2 836.0 1106.1C829.8 1105.1 823.6 1104.2 817.4 1103.3C811.2 1102.3 805.0 1101.5 798.8 1100.6C792.5 1099.8 786.3 1099.0 780.1 1098.3C773.9 1097.5 767.7 1096.8 761.4 1096.1C755.2 1095.4 748.9 1094.8 742.7 1094.2C736.5 1093.5 730.2 1092.9 724.0 1092.4C717.7 1091.8 711.5 1091.2 705.2 1090.7C698.9 1090.1 692.7 1089.6 686.4 1089.1C680.2 1088.6 673.9 1088.1 667.6 1087.6C661.4 1087.1 655.1 1086.7 648.9 1086.2C642.6 1085.7 636.3 1085.2 630.1 1084.7C623.8 1084.3 617.6 1083.8 611.3 1083.3C605.0 1082.8 598.8 1082.3 592.5 1081.8C586.3 1081.3 580.0 1080.8 573.8 1080.3C567.5 1079.7 561.3 1079.2 555.0 1078.7C548.8 1078.1 542.5 1077.6 536.3 1077.0C530.1 1076.5 523.8 1075.9 517.6 1075.4C511.3 1074.8 505.1 1074.3 498.9 1073.7C492.6 1073.2 486.4 1072.7 480.1 1072.1C473.9 1071.6 467.7 1071.1 461.4 1070.6C455.2 1070.0 448.9 1069.5 442.7 1069.0C436.5 1068.6 430.2 1068.1 424.0 1067.6C417.7 1067.2 411.5 1066.7 405.2 1066.3C399.0 1065.8 392.7 1065.4 386.5 1065.0C380.2 1064.7 373.9 1064.3 367.7 1064.0C361.4 1063.6 355.2 1063.3 348.9 1063.0C342.6 1062.7 336.3 1062.5 330.1 1062.2C323.8 1062.0 317.5 1061.8 311.2 1061.7C304.9 1061.5 295.5 1061.3 292.3 1061.3" stroke="#0000ff" stroke-width="8"/>
<path d="M293.5 1008.0C296.8 1007.9 306.5 1007.5 313.1 1007.2C319.6 1007.0 326.1 1006.8 332.7 1006.5C339.2 1006.3 345.7 1006.1 352.2 1005.9C358.8 1005.7 365.3 1005.6 371.8 1005.4C378.3 1005.2 384.9 1005.1 391.4 1004.9C397.9 1004.8 404.5 1004.6 411.0 1004.5C417.5 1004.4 424.0 1004.2 430.6 1004.1C437.1 1004.0 443.6 1003.9 450.2 1003.8C456.7 1003.7 463.2 1003.6 469.8 1003.6C476.3 1003.5 482.8 1003.4 489.4 1003.4C495.9 1003.3 502.4 1003.2 508.9 1003.2C515.5 1003.1 522.0 1003.1 528.5 1003.1C535.1 1003.0 541.6 1003.0 548.2 1003.0C554.7 1002.9 561.2 1002.9 567.8 1002.9C574.3 1002.9 580.8 1002.9 587.4 1002.9C593.9 1002.9 600.4 1002.9 607.0 1002.9C613.5 1002.9 620.0 1002.9 626.6 1002.9C633.1 1002.9 639.7 1002.9 646.2 1002.9C652.7 1003.0 659.3 1003.0 665.8 1003.0C672.3 1003.0 678.9 1003.0 685.4 1003.1C692.0 1003.1 698.5 1003.1 705.0 1003.1C711.6 1003.2 718.1 1003.2 724.7 1003.2C731.2 1003.3 737.8 1003.3 744.3 1003.3C750.8 1003.3 757.4 1003.4 763.9 1003.4C770.5 1003.4 777.0 1003.4 783.5 1003.5C790.1 1003.5 796.6 1003.5 803.2 1003.5C809.7 1003.6 816.3 1003.6 822.8 1003.6C829.4 1003.6 835.9 1003.6 842.4 1003.7C849.0 1003.7 855.5 1003.7 862.1 1003.7C868.6 1003.7 875.2 1003.7 881.7 1003.7C888.2 1003.7 894.8 1003.7 901.3 1003.7C907.9 1003.7 914.4 1003.7 921.0 1003.7C927.5 1003.7 934.0 1003.7 940.6 1003.7C947.1 1003.7 953.7 1003.7 960.2 1003.6C966.7 1003.6 973.3 1003.6 979.8 1003.6C986.4 1003.5 992.9 1003.5 999.4 1003.5C1006.0 1003.4 1012.5 1003.4 1019.0 1003.3C1025.6 1003.3 1032.1 1003.2 1038.7 1003.2C1045.2 1003.1 1051.7 1003.0 1058.3 1003.0C1064.8 1002.9 1071.3 1002.8 1077.8 1002.7C1084.4 1002.6 1090.9 1002.6 1097.4 1002.5C1104.0 1002.4 1110.5 1002.3 1117.0 1002.1C1123.5 1002.0 1130.1 1001.9 1136.6 1001.8C1143.1 1001.7 1149.6 1001.5 1156.1 1001.4C1162.7 1001.3 1169.2 1001.1 1175.7 1001.0C1182.2 1000.8 1188.7 1000.6 1195.2 1000.5C1201.7 1000.3 1208.3 1000.1 1214.8 999.9C1221.3 999.7 1227.8 999.5 1234.3 999.2C1240.8 998.9 1247.3 998.6 1253.8 998.2C1260.3 997.8 1266.8 997.4 1273.3 996.8C1279.8 996.3 1286.3 995.6 1292.8 994.9C1299.3 994.1 1305.8 993.2 1312.3 992.2C1318.8 991.2 1325.3 990.1 1331.8 988.8C1338.4 987.5 1344.9 986.0 1351.4 984.4C1357.9 982.7 1364.5 981.0 1370.8 978.8C1377.2 976.7 1383.6 974.4 1389.5 971.6C1395.4 968.8 1401.1 965.6 1406.1 961.9C1411.2 958.1 1415.7 953.7 1419.8 948.9C1423.9 944.2 1427.5 938.8 1430.7 933.3C1434.0 927.8 1436.8 921.8 1439.5 915.7C1442.2 909.7 1444.4 903.3 1446.7 897.0C1448.9 890.7 1450.9 884.3 1452.9 877.9C1454.8 871.6 1456.7 865.2 1458.4 858.9C1460.2 852.5 1461.8 846.2 1463.4 839.8C1465.0 833.5 1466.5 827.2 1467.9 820.8C1469.3 814.5 1470.7 808.1 1472.0 801.8C1473.3 795.4 1474.5 789.0 1475.7 782.7C1476.9 776.3 1478.1 769.9 1479.2 763.5C1480.4 757.2 1481.5 750.8 1482.6 744.4C1483.6 738.0 1484.7 731.5 1485.8 725.1C1486.8 718.7 1487.9 712.2 1488.9 705.8C1490.0 699.3 1491.0 692.9 1492.0 686.4C1493.1 679.9 1494.1 673.4 1495.1 667.0C1496.1 660.5 1497.2 654.0 1498.2 647.5C1499.2 641.0 1500.2 634.5 1501.3 628.0C1502.3 621.5 1503.3 615.0 1504.4 608.5C1505.4 602.1 1506.4 595.6 1507.5 589.1C1508.6 582.6 1509.6 576.1 1510.7 569.7C1511.8 563.2 1512.9 556.7 1514.0 550.3C1515.1 543.8 1516.2 537.4 1517.4 530.9C1518.5 524.5 1519.7 518.1 1520.9 511.7C1522.1 505.3 1523.3 498.9 1524.5 492.5C1525.8 486.1 1527.0 479.7 1528.3 473.4C1529.6 467.0 1530.9 460.7 1532.3 454.4C1533.6 448.1 1535.0 441.8 1536.4 435.6C1537.9 429.3 1539.3 423.1 1540.8 416.8C1542.3 410.4 1543.8 404.1 1545.3 397.6C1546.9 391.0 1548.1 384.2 1550.0 377.5C1551.9 370.7 1553.5 362.7 1556.9 357.0C1560.2 351.4 1565.0 345.3 1569.9 343.5C1574.9 341.7 1581.9 343.2 1586.8 346.0C1591.8 348.8 1595.9 354.8 1599.7 360.3C1603.4 365.8 1606.3 372.9 1609.4 379.2C1612.5 385.4 1615.4 391.6 1618.4 397.6C1621.3 403.6 1624.2 409.4 1627.1 415.3C1630.0 421.3 1632.9 427.1 1635.9 433.3C1638.9 439.5 1641.8 446.3 1645.0 452.5C1648.1 458.7 1651.3 464.7 1654.7 470.7C1658.0 476.7 1661.5 482.7 1665.1 488.5C1668.8 494.3 1672.5 500.0 1676.3 505.5C1680.1 511.1 1684.1 516.4 1688.0 521.8C1692.0 527.1 1696.1 532.4 1700.3 537.7C1704.4 542.9 1708.6 548.1 1712.9 553.2C1717.1 558.3 1721.4 563.3 1725.7 568.2C1730.1 573.1 1734.4 578.1 1738.8 582.7C1743.2 587.4 1747.6 591.8 1752.1 595.9C1756.5 600.1 1761.1 604.1 1765.7 607.8C1770.4 611.6 1775.1 615.1 1779.9 618.6C1784.8 622.1 1789.8 625.4 1794.9 628.7C1800.0 632.0 1805.3 635.3 1810.7 638.5C1816.2 641.6 1821.7 644.7 1827.4 647.7C1833.2 650.7 1839.0 653.6 1844.9 656.4C1850.9 659.2 1857.0 661.8 1863.1 664.2C1869.2 666.6 1875.5 668.9 1881.8 670.8C1888.1 672.8 1894.5 674.4 1900.9 675.9C1907.3 677.3 1913.8 678.4 1920.3 679.4C1926.9 680.3 1933.4 681.1 1940.0 681.6C1946.5 682.1 1953.1 682.5 1959.6 682.6C1966.2 682.7 1972.8 682.6 1979.3 682.3C1985.8 682.0 1992.3 681.4 1998.8 680.7C2005.3 680.0 2011.7 679.1 2018.1 678.0C2024.5 677.0 2030.9 675.7 2037.3 674.4C2043.7 673.1 2050.0 671.6 2056.4 670.0C2062.7 668.4 2069.0 666.7 2075.3 665.0C2081.6 663.2 2087.9 661.4 2094.2 659.6C2100.5 657.7 2106.8 655.8 2113.1 653.9C2119.3 652.0 2125.6 650.1 2131.9 648.2C2138.1 646.3 2144.4 644.4 2150.7 642.6C2156.9 640.8 2166.4 638.2 2169.5 637.3L2169.5 637.3C2169.4 640.5 2169.6 650.4 2168.6 656.5C2167.7 662.7 2165.8 668.6 2163.7 674.3C2161.5 680.1 2158.7 685.6 2155.7 691.1C2152.8 696.5 2149.3 701.8 2145.9 707.0C2142.4 712.3 2138.7 717.5 2135.0 722.6C2131.3 727.7 2127.5 732.8 2123.5 737.7C2119.6 742.7 2115.6 747.6 2111.5 752.4C2107.3 757.2 2103.1 761.9 2098.7 766.4C2094.4 771.0 2089.9 775.4 2085.3 779.6C2080.7 783.9 2076.0 788.0 2071.2 791.9C2066.3 795.8 2061.4 799.6 2056.3 803.1C2051.2 806.6 2045.9 810.0 2040.6 813.1C2035.2 816.2 2029.7 819.1 2024.0 821.7C2018.4 824.4 2012.7 826.8 2006.8 829.1C2001.0 831.4 1995.0 833.4 1989.0 835.3C1983.0 837.2 1976.9 838.8 1970.7 840.4C1964.6 841.9 1958.3 843.2 1952.1 844.4C1945.8 845.6 1939.5 846.7 1933.2 847.6C1926.9 848.6 1920.6 849.4 1914.3 850.1C1907.9 850.7 1901.6 851.3 1895.3 851.7C1889.0 852.2 1882.7 852.5 1876.5 852.7C1870.3 853.0 1864.1 853.1 1857.9 853.2C1851.7 853.3 1845.5 853.3 1839.3 853.4C1833.2 853.4 1827.0 853.4 1820.9 853.5C1814.7 853.5 1808.5 853.6 1802.3 853.7C1796.1 853.9 1789.9 854.0 1783.7 854.3C1777.4 854.6 1771.2 855.0 1764.8 855.5C1758.5 856.0 1752.1 856.7 1745.8 857.5C1739.4 858.3 1733.0 859.3 1726.6 860.5C1720.2 861.7 1713.8 863.0 1707.6 864.6C1701.3 866.2 1695.0 867.9 1688.8 869.9C1682.7 871.9 1676.6 874.1 1670.7 876.5C1664.7 878.9 1658.9 881.5 1653.3 884.3C1647.6 887.2 1642.1 890.4 1636.8 893.6C1631.5 896.8 1626.4 900.1 1621.5 903.4C1616.6 906.7 1612.0 909.9 1607.5 913.6C1603.1 917.2 1598.9 921.1 1594.8 925.2C1590.8 929.2 1587.0 933.4 1583.3 937.9C1579.6 942.4 1576.1 947.1 1572.7 952.1C1569.3 957.1 1566.1 962.4 1563.0 967.8C1559.9 973.1 1556.9 978.7 1554.0 984.3C1551.1 989.9 1548.3 995.6 1545.6 1001.4C1542.9 1007.2 1540.2 1013.1 1537.6 1018.9C1535.0 1024.8 1532.5 1030.7 1530.0 1036.6C1527.5 1042.5 1525.1 1048.3 1522.6 1054.2C1520.2 1060.0 1517.9 1065.9 1515.5 1071.7C1513.2 1077.5 1510.9 1083.3 1508.7 1089.2C1506.4 1095.0 1504.2 1100.8 1502.1 1106.6C1499.9 1112.4 1497.8 1118.3 1495.7 1124.1C1493.6 1129.9 1491.5 1135.8 1489.5 1141.6C1487.5 1147.5 1485.6 1153.4 1483.6 1159.3C1481.7 1165.2 1479.8 1171.1 1478.0 1177.0C1476.1 1183.0 1474.3 1188.9 1472.5 1194.9C1470.7 1200.9 1469.0 1206.9 1467.2 1212.9C1465.5 1218.9 1463.7 1224.9 1461.9 1231.0C1460.2 1237.0 1458.4 1243.0 1456.6 1249.0C1454.8 1255.1 1452.9 1261.1 1451.0 1267.1C1449.1 1273.1 1447.2 1279.1 1445.2 1285.1C1443.2 1291.1 1441.1 1297.0 1439.0 1303.0C1436.8 1308.9 1434.6 1314.8 1432.2 1320.7C1429.9 1326.6 1427.4 1332.4 1424.8 1338.3C1422.3 1344.1 1419.6 1349.8 1416.8 1355.5C1413.9 1361.3 1411.0 1367.0 1407.8 1372.5C1404.6 1378.0 1401.3 1383.6 1397.6 1388.6C1393.8 1393.6 1389.8 1398.5 1385.1 1402.6C1380.5 1406.7 1375.2 1410.7 1369.7 1413.2C1364.1 1415.8 1357.7 1417.9 1351.8 1418.0C1345.9 1418.2 1339.9 1416.2 1334.2 1414.0C1328.6 1411.8 1323.1 1408.3 1317.9 1405.1C1312.7 1401.8 1307.7 1398.1 1302.9 1394.2C1298.0 1390.4 1293.4 1386.2 1288.9 1382.0C1284.4 1377.7 1280.0 1373.2 1275.7 1368.6C1271.4 1364.0 1267.3 1359.2 1263.1 1354.4C1259.0 1349.6 1254.9 1344.7 1250.8 1339.8C1246.7 1334.9 1242.6 1330.0 1238.5 1325.1C1234.4 1320.2 1230.4 1315.3 1226.2 1310.5C1222.1 1305.6 1218.0 1300.8 1213.8 1296.0C1209.6 1291.3 1205.4 1286.5 1201.1 1281.9C1196.8 1277.2 1192.5 1272.6 1188.1 1268.1C1183.7 1263.5 1179.2 1259.1 1174.7 1254.7C1170.1 1250.4 1165.5 1246.2 1160.8 1242.0C1156.1 1237.9 1151.3 1233.8 1146.5 1229.9C1141.6 1225.9 1136.7 1222.1 1131.7 1218.4C1126.7 1214.6 1121.7 1211.0 1116.5 1207.4C1111.4 1203.8 1106.2 1200.4 1101.0 1197.0C1095.7 1193.6 1090.4 1190.4 1085.0 1187.2C1079.7 1184.0 1074.2 1180.9 1068.7 1177.9C1063.3 1174.9 1057.7 1172.0 1052.1 1169.1C1046.6 1166.3 1040.9 1163.6 1035.3 1160.9C1029.6 1158.2 1023.9 1155.7 1018.1 1153.2C1012.3 1150.7 1006.5 1148.3 1000.7 1146.0C994.9 1143.7 989.0 1141.4 983.1 1139.3C977.2 1137.1 971.2 1135.0 965.3 1133.0C959.3 1131.0 953.3 1129.1 947.3 1127.3C941.3 1125.4 935.2 1123.7 929.2 1122.0C923.1 1120.3 917.0 1118.7 910.9 1117.1C904.8 1115.6 898.7 1114.1 892.6 1112.7C886.5 1111.3 880.3 1110.0 874.2 1108.7C868.0 1107.4 861.9 1106.2 855.7 1105.1C849.5 1104.0 843.3 1102.9 837.2 1101.8C831.0 1100.8 824.8 1099.8 818.6 1098.9C812.3 1098.0 806.1 1097.1 799.9 1096.3C793.7 1095.4 787.4 1094.7 781.2 1093.9C775.0 1093.1 768.7 1092.4 762.5 1091.8C756.2 1091.1 749.9 1090.4 743.7 1089.8C737.4 1089.2 731.2 1088.6 724.9 1088.0C718.6 1087.4 712.3 1086.9 706.1 1086.4C699.8 1085.8 693.5 1085.3 687.2 1084.8C681.0 1084.3 674.7 1083.8 668.4 1083.3C662.1 1082.9 655.8 1082.4 649.6 1081.9C643.3 1081.4 637.0 1081.0 630.7 1080.5C624.5 1080.0 618.2 1079.5 611.9 1079.0C605.6 1078.5 599.4 1078.0 593.1 1077.5C586.9 1077.0 580.6 1076.5 574.3 1075.9C568.1 1075.4 561.8 1074.9 555.6 1074.3C549.3 1073.8 543.1 1073.2 536.8 1072.6C530.6 1072.1 524.3 1071.5 518.1 1070.9C511.9 1070.4 505.6 1069.8 499.4 1069.2C493.1 1068.7 486.9 1068.1 480.7 1067.6C474.4 1067.0 468.2 1066.5 461.9 1066.0C455.7 1065.4 449.4 1064.9 443.2 1064.4C436.9 1063.9 430.7 1063.4 424.4 1063.0C418.2 1062.5 411.9 1062.0 405.7 1061.6C399.4 1061.2 393.2 1060.8 386.9 1060.4C380.6 1060.0 374.4 1059.7 368.1 1059.4C361.8 1059.0 355.5 1058.7 349.2 1058.5C343.0 1058.2 336.7 1058.0 330.4 1057.8C324.1 1057.6 317.8 1057.5 311.5 1057.4C305.2 1057.3 295.7 1057.2 292.5 1057.2" stroke="#00ffff" stroke-width="8"/>
<path d="M293.5 1008.0C296.9 1007.9 307.2 1007.5 314.0 1007.3C320.8 1007.0 327.7 1006.8 334.5 1006.6C341.4 1006.4 348.2 1006.2 355.1 1006.0C361.9 1005.8 368.8 1005.6 375.6 1005.4C382.5 1005.3 389.3 1005.1 396.2 1005.0C403.0 1004.8 409.9 1004.7 416.8 1004.5C423.6 1004.4 430.5 1004.3 437.4 1004.2C444.2 1004.1 451.1 1003.9 458.0 1003.8C464.8 1003.7 471.7 1003.7 478.6 1003.6C485.4 1003.5 492.3 1003.4 499.2 1003.3C506.1 1003.3 512.9 1003.2 519.8 1003.2C526.7 1003.1 533.6 1003.1 540.5 1003.0C547.3 1003.0 554.2 1002.9 561.1 1002.9C568.0 1002.9 574.9 1002.8 581.7 1002.8C588.6 1002.8 595.5 1002.8 602.4 1002.8C609.3 1002.8 616.1 1002.8 623.0 1002.8C629.9 1002.8 636.8 1002.8 643.7 1002.8C650.5 1002.8 657.4 1002.8 664.3 1002.8C671.2 1002.8 678.0 1002.9 684.9 1002.9C691.8 1002.9 698.7 1002.9 705.5 1002.9C712.4 1003.0 719.3 1003.0 726.2 1003.0C733.0 1003.1 739.9 1003.1 746.8 1003.1C753.6 1003.2 760.5 1003.2 767.4 1003.2C774.2 1003.3 781.1 1003.3 788.0 1003.4C794.8 1003.4 801.7 1003.4 808.5 1003.5C815.4 1003.5 822.3 1003.6 829.1 1003.6C836.0 1003.6 842.8 1003.7 849.7 1003.7C856.6 1003.7 863.4 1003.8 870.3 1003.8C877.1 1003.8 884.0 1003.8 890.8 1003.9C897.7 1003.9 904.6 1003.9 911.4 1003.9C918.3 1003.9 925.1 1003.9 932.0 1003.9C938.8 1003.9 945.7 1003.9 952.5 1003.9C959.4 1003.9 966.3 1003.9 973.1 1003.9C980.0 1003.9 986.8 1003.8 993.7 1003.8C1000.6 1003.8 1007.4 1003.7 1014.3 1003.7C1021.2 1003.6 1028.0 1003.6 1034.9 1003.5C1041.8 1003.4 1048.6 1003.4 1055.5 1003.3C1062.4 1003.2 1069.2 1003.1 1076.1 1003.0C1083.0 1002.9 1089.9 1002.7 1096.7 1002.6C1103.6 1002.5 1110.5 1002.3 1117.4 1002.2C1124.3 1002.0 1131.1 1001.9 1138.0 1001.7C1144.9 1001.5 1151.8 1001.3 1158.7 1001.1C1165.6 1000.9 1172.5 1000.7 1179.4 1000.4C1186.3 1000.2 1193.2 1000.0 1200.1 999.7C1207.0 999.4 1213.9 999.1 1220.8 998.8C1227.8 998.6 1234.7 998.2 1241.6 997.9C1248.5 997.6 1255.4 997.2 1262.4 996.9C1269.3 996.5 1276.3 996.2 1283.2 995.7C1290.1 995.3 1297.0 994.8 1303.9 994.2C1310.8 993.6 1317.7 992.9 1324.4 992.0C1331.2 991.1 1338.0 990.1 1344.7 988.7C1351.3 987.4 1357.9 985.9 1364.4 984.0C1370.9 982.1 1377.3 980.0 1383.5 977.5C1389.8 974.9 1395.9 972.1 1401.9 968.8C1407.8 965.5 1413.7 961.8 1419.2 957.7C1424.8 953.7 1430.1 949.3 1435.0 944.6C1440.0 939.8 1444.7 934.7 1448.8 929.4C1453.0 924.0 1456.8 918.3 1460.1 912.5C1463.5 906.6 1466.4 900.4 1469.0 894.0C1471.7 887.7 1473.9 881.1 1476.0 874.5C1478.1 867.9 1479.8 861.1 1481.5 854.3C1483.1 847.5 1484.6 840.5 1486.0 833.6C1487.4 826.8 1488.6 819.9 1489.9 813.0C1491.2 806.2 1492.5 799.4 1493.8 792.7C1495.0 786.0 1496.3 779.3 1497.4 772.6C1498.6 765.9 1499.8 759.3 1500.9 752.6C1502.0 745.9 1503.1 739.2 1504.1 732.5C1505.1 725.8 1506.1 719.0 1507.0 712.2C1507.9 705.5 1508.8 698.7 1509.6 691.8C1510.4 685.0 1511.2 678.2 1512.0 671.3C1512.8 664.5 1513.5 657.6 1514.2 650.8C1515.0 643.9 1515.7 637.0 1516.4 630.2C1517.1 623.3 1517.8 616.4 1518.5 609.5C1519.2 602.7 1519.9 595.8 1520.7 589.0C1521.4 582.1 1522.1 575.3 1522.8 568.4C1523.6 561.6 1524.4 554.8 1525.1 547.9C1525.9 541.1 1526.7 534.3 1527.5 527.5C1528.3 520.7 1529.1 513.9 1529.9 507.1C1530.7 500.3 1531.5 493.5 1532.3 486.7C1533.2 479.9 1534.0 473.1 1534.9 466.3C1535.7 459.5 1536.6 452.7 1537.4 445.9C1538.3 439.1 1539.2 432.3 1540.1 425.5C1541.0 418.7 1541.9 411.9 1542.8 405.1C1543.7 398.3 1544.6 391.4 1545.5 384.6C1546.4 377.8 1547.3 370.9 1548.3 364.1C1549.2 357.2 1550.0 350.3 1551.1 343.5C1552.1 336.7 1553.0 329.8 1554.4 323.3C1555.8 316.7 1557.2 310.6 1559.4 304.2C1561.6 297.8 1564.2 291.4 1567.8 284.9C1571.4 278.4 1576.4 269.0 1581.1 265.3C1585.7 261.7 1591.2 260.1 1595.6 262.8C1600.0 265.4 1604.0 274.8 1607.4 281.1C1610.8 287.5 1613.3 294.4 1615.7 300.9C1618.2 307.4 1620.1 313.8 1622.2 320.1C1624.4 326.5 1626.4 332.8 1628.7 339.2C1631.0 345.6 1633.5 352.0 1636.0 358.3C1638.6 364.7 1641.3 371.1 1644.0 377.4C1646.7 383.8 1649.5 390.1 1652.4 396.3C1655.3 402.6 1658.2 408.9 1661.3 415.1C1664.3 421.3 1667.4 427.4 1670.6 433.5C1673.8 439.6 1677.1 445.7 1680.5 451.7C1683.9 457.6 1687.3 463.6 1690.9 469.4C1694.5 475.3 1698.2 481.1 1701.9 486.8C1705.7 492.5 1709.6 498.2 1713.6 503.7C1717.6 509.2 1721.7 514.7 1725.9 520.1C1730.1 525.5 1734.5 530.8 1738.9 535.9C1743.4 541.0 1747.9 546.0 1752.7 550.8C1757.4 555.6 1762.2 560.2 1767.2 564.7C1772.1 569.2 1777.3 573.6 1782.5 577.8C1787.7 582.1 1793.1 586.3 1798.6 590.3C1804.1 594.4 1809.7 598.3 1815.5 602.1C1821.2 606.0 1827.0 609.8 1833.0 613.4C1838.9 617.0 1845.0 620.6 1851.1 623.9C1857.2 627.2 1863.4 630.4 1869.7 633.4C1876.0 636.4 1882.4 639.1 1888.8 641.7C1895.3 644.3 1901.8 646.7 1908.3 648.9C1914.9 651.1 1921.5 653.1 1928.2 654.8C1934.8 656.4 1941.5 657.8 1948.2 658.9C1955.0 660.0 1961.7 660.8 1968.5 661.3C1975.3 661.9 1982.1 662.2 1988.9 662.2C1995.7 662.2 2002.5 662.0 2009.3 661.5C2016.2 661.0 2023.0 660.3 2029.8 659.4C2036.6 658.5 2043.4 657.4 2050.2 656.1C2057.0 654.9 2063.8 653.4 2070.6 651.9C2077.3 650.3 2084.1 648.6 2090.8 646.8C2097.5 645.1 2104.2 643.2 2110.9 641.2C2117.5 639.3 2124.1 637.2 2130.7 635.2C2137.2 633.1 2143.8 631.0 2150.2 628.9C2156.7 626.8 2166.3 623.7 2169.5 622.7L2169.5 622.7C2169.4 626.0 2169.9 636.3 2169.1 642.8C2168.4 649.2 2166.8 655.3 2164.8 661.2C2162.9 667.1 2160.3 672.8 2157.3 678.3C2154.4 683.7 2151.0 689.0 2147.3 694.1C2143.7 699.3 2139.7 704.2 2135.5 709.1C2131.4 714.0 2127.1 718.7 2122.6 723.3C2118.2 727.9 2113.5 732.5 2108.8 736.8C2104.1 741.2 2099.2 745.4 2094.2 749.5C2089.2 753.5 2084.1 757.5 2078.8 761.2C2073.6 764.9 2068.2 768.5 2062.8 771.8C2057.3 775.2 2051.8 778.4 2046.1 781.3C2040.5 784.2 2034.7 787.0 2028.9 789.5C2023.0 792.0 2017.1 794.2 2011.1 796.2C2005.2 798.2 1999.1 800.0 1993.0 801.5C1986.9 803.0 1980.7 804.2 1974.4 805.3C1968.2 806.3 1961.9 807.1 1955.6 807.8C1949.3 808.5 1942.9 809.0 1936.5 809.5C1930.2 810.0 1923.7 810.3 1917.3 810.6C1910.9 810.9 1904.5 811.1 1898.0 811.3C1891.6 811.5 1885.1 811.7 1878.7 811.9C1872.3 812.2 1865.8 812.4 1859.4 812.7C1853.0 813.0 1846.7 813.3 1840.3 813.8C1834.0 814.3 1827.6 814.9 1821.3 815.6C1815.0 816.3 1808.8 817.1 1802.5 818.0C1796.2 818.9 1790.0 819.9 1783.7 821.0C1777.4 822.1 1771.2 823.3 1764.9 824.6C1758.6 825.9 1752.3 827.3 1746.0 828.8C1739.7 830.3 1733.4 831.9 1727.1 833.7C1720.8 835.4 1714.4 837.2 1708.2 839.2C1701.9 841.2 1695.6 843.4 1689.5 845.8C1683.3 848.1 1677.2 850.6 1671.3 853.3C1665.3 856.0 1659.5 858.8 1653.8 861.9C1648.1 865.0 1642.5 868.6 1637.2 871.9C1631.8 875.2 1626.6 878.5 1621.6 881.8C1616.7 885.1 1611.9 888.1 1607.5 891.6C1603.0 895.2 1598.8 899.2 1594.8 903.3C1590.8 907.5 1587.2 911.8 1583.6 916.6C1580.1 921.3 1576.9 926.3 1573.7 931.6C1570.5 936.8 1567.6 942.6 1564.7 948.2C1561.8 953.9 1559.1 959.7 1556.3 965.5C1553.6 971.2 1551.0 977.0 1548.4 982.8C1545.8 988.6 1543.2 994.4 1540.7 1000.2C1538.1 1006.0 1535.6 1011.8 1533.2 1017.6C1530.7 1023.4 1528.3 1029.2 1525.9 1035.0C1523.6 1040.8 1521.2 1046.6 1518.9 1052.4C1516.6 1058.2 1514.3 1064.0 1512.0 1069.9C1509.8 1075.7 1507.5 1081.6 1505.3 1087.6C1503.1 1093.5 1500.9 1099.5 1498.8 1105.5C1496.6 1111.5 1494.5 1117.5 1492.4 1123.5C1490.3 1129.6 1488.2 1135.7 1486.2 1141.8C1484.2 1147.8 1482.2 1154.0 1480.2 1160.1C1478.2 1166.2 1476.2 1172.3 1474.3 1178.5C1472.4 1184.6 1470.5 1190.8 1468.7 1196.9C1466.8 1203.1 1465.0 1209.3 1463.2 1215.4C1461.4 1221.6 1459.6 1227.7 1457.9 1233.9C1456.2 1240.0 1454.5 1246.1 1452.8 1252.3C1451.1 1258.4 1449.4 1264.5 1447.6 1270.6C1445.9 1276.7 1444.2 1282.8 1442.4 1288.8C1440.5 1294.9 1438.7 1301.0 1436.7 1307.0C1434.8 1313.0 1432.8 1319.0 1430.7 1325.0C1428.5 1331.0 1426.3 1336.9 1423.9 1342.8C1421.6 1348.8 1419.1 1354.7 1416.4 1360.5C1413.7 1366.4 1410.9 1372.2 1407.9 1378.0C1404.9 1383.8 1401.8 1389.7 1398.3 1395.3C1394.8 1400.9 1391.4 1406.9 1387.2 1411.8C1383.0 1416.7 1378.4 1421.4 1373.2 1424.7C1368.1 1427.9 1362.3 1430.3 1356.5 1431.1C1350.7 1432.0 1344.6 1431.1 1338.7 1429.6C1332.9 1428.0 1326.9 1424.8 1321.4 1421.8C1315.9 1418.7 1310.7 1415.0 1305.6 1411.1C1300.6 1407.2 1295.9 1402.9 1291.3 1398.5C1286.7 1394.1 1282.3 1389.3 1278.0 1384.5C1273.8 1379.7 1269.7 1374.6 1265.6 1369.5C1261.5 1364.5 1257.6 1359.2 1253.6 1354.1C1249.6 1349.0 1245.7 1343.8 1241.7 1338.7C1237.7 1333.6 1233.8 1328.6 1229.7 1323.7C1225.7 1318.7 1221.6 1313.8 1217.5 1309.0C1213.4 1304.2 1209.3 1299.4 1205.1 1294.7C1200.9 1290.0 1196.7 1285.3 1192.5 1280.7C1188.2 1276.0 1183.9 1271.5 1179.5 1266.9C1175.1 1262.3 1170.7 1257.7 1166.2 1253.2C1161.7 1248.7 1157.2 1244.2 1152.6 1239.7C1148.0 1235.3 1143.4 1230.8 1138.6 1226.5C1133.9 1222.1 1129.1 1217.8 1124.3 1213.6C1119.4 1209.4 1114.5 1205.2 1109.6 1201.2C1104.6 1197.1 1099.5 1193.1 1094.4 1189.3C1089.3 1185.5 1084.1 1181.7 1078.8 1178.1C1073.6 1174.5 1068.2 1171.0 1062.8 1167.7C1057.4 1164.4 1051.9 1161.2 1046.4 1158.2C1040.8 1155.1 1035.1 1152.3 1029.4 1149.6C1023.7 1146.9 1017.9 1144.4 1012.0 1142.0C1006.2 1139.6 1000.2 1137.3 994.2 1135.2C988.3 1133.1 982.2 1131.1 976.1 1129.2C970.1 1127.3 963.9 1125.5 957.8 1123.8C951.6 1122.1 945.4 1120.5 939.2 1118.9C933.0 1117.4 926.8 1115.9 920.5 1114.5C914.3 1113.1 908.0 1111.7 901.7 1110.4C895.5 1109.1 889.2 1107.8 882.9 1106.5C876.6 1105.3 870.4 1104.1 864.1 1102.9C857.8 1101.7 851.5 1100.6 845.2 1099.5C838.9 1098.3 832.6 1097.3 826.3 1096.2C820.0 1095.2 813.7 1094.2 807.4 1093.2C801.1 1092.2 794.8 1091.2 788.5 1090.3C782.2 1089.4 775.9 1088.5 769.6 1087.6C763.2 1086.7 756.9 1085.9 750.6 1085.1C744.3 1084.3 738.0 1083.5 731.6 1082.7C725.3 1081.9 719.0 1081.2 712.6 1080.5C706.3 1079.8 700.0 1079.1 693.6 1078.4C687.3 1077.7 680.9 1077.1 674.6 1076.4C668.3 1075.8 661.9 1075.2 655.6 1074.6C649.2 1074.0 642.9 1073.4 636.5 1072.9C630.2 1072.3 623.8 1071.8 617.5 1071.3C611.1 1070.7 604.8 1070.2 598.4 1069.7C592.0 1069.2 585.7 1068.8 579.3 1068.3C573.0 1067.8 566.6 1067.4 560.2 1066.9C553.9 1066.5 547.5 1066.1 541.2 1065.6C534.8 1065.2 528.4 1064.8 522.1 1064.4C515.7 1064.0 509.3 1063.6 503.0 1063.2C496.6 1062.9 490.2 1062.5 483.9 1062.1C477.5 1061.7 471.1 1061.4 464.7 1061.0C458.4 1060.6 452.0 1060.3 445.6 1059.9C439.3 1059.6 432.9 1059.2 426.5 1058.9C420.1 1058.5 413.8 1058.2 407.4 1057.8C401.0 1057.5 394.7 1057.1 388.3 1056.8C381.9 1056.4 375.5 1056.1 369.2 1055.7C362.8 1055.3 356.4 1055.0 350.1 1054.6C343.7 1054.3 337.3 1053.9 331.0 1053.5C324.6 1053.1 318.2 1052.8 311.9 1052.4C305.5 1052.0 295.9 1051.4 292.8 1051.2" stroke="#ff00ff" stroke-width="8"/>
<path d="M293.5 1008.0C297.0 1007.9 307.4 1007.6 314.4 1007.4C321.3 1007.2 328.3 1007.0 335.3 1006.8C342.3 1006.6 349.2 1006.5 356.2 1006.3C363.2 1006.1 370.2 1006.0 377.2 1005.8C384.2 1005.6 391.2 1005.5 398.2 1005.3C405.2 1005.2 412.3 1005.0 419.3 1004.9C426.3 1004.8 433.3 1004.6 440.3 1004.5C447.4 1004.4 454.4 1004.3 461.4 1004.1C468.5 1004.0 475.5 1003.9 482.5 1003.8C489.6 1003.7 496.6 1003.6 503.7 1003.5C510.7 1003.4 517.8 1003.3 524.8 1003.3C531.8 1003.2 538.9 1003.1 545.9 1003.0C553.0 1003.0 560.0 1002.9 567.1 1002.8C574.1 1002.8 581.2 1002.7 588.2 1002.7C595.3 1002.6 602.3 1002.6 609.4 1002.6C616.4 1002.5 623.5 1002.5 630.5 1002.5C637.6 1002.5 644.6 1002.4 651.7 1002.4C658.7 1002.4 665.8 1002.4 672.8 1002.4C679.8 1002.4 686.9 1002.4 693.9 1002.4C701.0 1002.5 708.0 1002.5 715.0 1002.5C722.0 1002.5 729.1 1002.6 736.1 1002.6C743.1 1002.6 750.1 1002.7 757.1 1002.7C764.2 1002.8 771.2 1002.8 778.2 1002.9C785.2 1002.9 792.2 1003.0 799.2 1003.1C806.2 1003.1 813.2 1003.2 820.2 1003.3C827.2 1003.3 834.2 1003.4 841.2 1003.5C848.1 1003.6 855.1 1003.6 862.1 1003.7C869.1 1003.8 876.1 1003.8 883.1 1003.9C890.1 1004.0 897.1 1004.0 904.0 1004.1C911.0 1004.1 918.0 1004.2 925.0 1004.2C932.0 1004.3 939.0 1004.3 946.0 1004.3C953.0 1004.4 959.9 1004.4 966.9 1004.4C973.9 1004.4 980.9 1004.4 987.9 1004.4C994.9 1004.4 1001.9 1004.4 1008.9 1004.4C1015.9 1004.3 1022.9 1004.3 1030.0 1004.3C1037.0 1004.2 1044.0 1004.1 1051.0 1004.0C1058.0 1004.0 1065.0 1003.9 1072.1 1003.8C1079.1 1003.6 1086.1 1003.5 1093.2 1003.4C1100.2 1003.2 1107.3 1003.1 1114.3 1002.9C1121.4 1002.7 1128.4 1002.5 1135.5 1002.2C1142.5 1002.0 1149.6 1001.8 1156.7 1001.5C1163.8 1001.2 1170.9 1000.9 1178.0 1000.6C1185.0 1000.3 1192.1 1000.0 1199.3 999.6C1206.4 999.3 1213.5 998.9 1220.6 998.4C1227.8 998.0 1234.9 997.6 1242.0 997.1C1249.2 996.6 1256.3 996.2 1263.5 995.6C1270.7 995.1 1277.9 994.6 1285.0 993.9C1292.2 993.3 1299.4 992.7 1306.5 991.9C1313.7 991.1 1320.8 990.3 1327.8 989.3C1334.8 988.3 1341.8 987.2 1348.6 985.8C1355.4 984.5 1362.2 983.0 1368.8 981.2C1375.4 979.5 1381.9 977.6 1388.2 975.3C1394.5 973.1 1400.6 970.6 1406.6 967.7C1412.5 964.9 1418.3 961.8 1423.8 958.3C1429.3 954.8 1434.6 951.0 1439.6 946.7C1444.6 942.5 1449.4 937.8 1453.9 932.7C1458.3 927.7 1462.5 922.1 1466.4 916.2C1470.3 910.2 1473.9 903.8 1477.2 897.2C1480.5 890.7 1483.6 883.7 1486.4 876.7C1489.2 869.7 1491.7 862.4 1494.1 855.1C1496.4 847.9 1498.5 840.5 1500.4 833.3C1502.3 826.1 1504.0 818.9 1505.5 811.9C1507.1 804.9 1508.4 798.1 1509.6 791.3C1510.9 784.6 1511.9 778.1 1512.9 771.5C1513.9 764.9 1514.8 758.4 1515.6 751.8C1516.5 745.2 1517.3 738.7 1518.1 731.9C1518.9 725.2 1519.7 718.4 1520.4 711.6C1521.2 704.8 1522.0 697.8 1522.7 690.9C1523.5 683.9 1524.2 676.9 1524.9 669.8C1525.6 662.8 1526.4 655.7 1527.1 648.6C1527.8 641.5 1528.5 634.4 1529.2 627.2C1529.9 620.1 1530.6 613.0 1531.3 605.9C1532.0 598.8 1532.7 591.6 1533.5 584.6C1534.2 577.5 1534.9 570.4 1535.6 563.4C1536.3 556.4 1537.1 549.4 1537.8 542.4C1538.5 535.4 1539.3 528.4 1540.0 521.4C1540.8 514.5 1541.5 507.5 1542.2 500.6C1543.0 493.7 1543.8 486.7 1544.5 479.8C1545.3 472.9 1546.0 465.9 1546.8 459.0C1547.6 452.1 1548.4 445.2 1549.2 438.2C1549.9 431.3 1550.7 424.4 1551.5 417.5C1552.3 410.5 1553.1 403.6 1553.9 396.6C1554.7 389.6 1555.5 382.7 1556.4 375.7C1557.2 368.7 1558.0 361.7 1558.8 354.7C1559.7 347.7 1560.5 340.6 1561.4 333.6C1562.2 326.5 1563.0 319.5 1563.9 312.4C1564.7 305.4 1565.6 298.4 1566.4 291.5C1567.2 284.6 1567.8 277.7 1568.9 270.8C1569.9 264.0 1570.6 257.2 1572.7 250.4C1574.7 243.6 1576.9 235.1 1580.9 230.1C1585.0 225.1 1591.8 219.6 1596.8 220.5C1601.9 221.3 1607.5 229.4 1611.3 235.1C1615.1 240.9 1617.1 248.4 1619.7 255.0C1622.4 261.6 1624.8 268.3 1627.2 275.0C1629.5 281.7 1631.8 288.3 1634.1 295.0C1636.3 301.6 1638.5 308.3 1640.8 314.9C1643.1 321.5 1645.3 328.1 1647.7 334.7C1650.1 341.3 1652.6 347.8 1655.1 354.4C1657.7 360.9 1660.3 367.4 1663.0 373.9C1665.8 380.3 1668.6 386.8 1671.5 393.1C1674.5 399.5 1677.5 405.8 1680.7 412.1C1683.8 418.4 1687.0 424.6 1690.4 430.8C1693.8 436.9 1697.2 443.1 1700.8 449.0C1704.4 455.0 1708.1 460.8 1711.9 466.3C1715.7 471.9 1719.6 477.2 1723.7 482.5C1727.7 487.9 1731.9 493.0 1736.2 498.2C1740.5 503.5 1744.9 508.8 1749.5 513.9C1754.1 519.1 1758.7 524.1 1763.6 529.1C1768.4 534.1 1773.4 538.9 1778.5 543.8C1783.6 548.7 1788.8 553.6 1794.2 558.4C1799.5 563.2 1805.0 568.2 1810.6 572.8C1816.2 577.3 1822.0 581.7 1827.8 585.9C1833.7 590.0 1839.6 594.0 1845.6 597.8C1851.7 601.6 1857.8 605.2 1864.1 608.7C1870.3 612.1 1876.6 615.3 1883.0 618.4C1889.4 621.5 1895.9 624.4 1902.4 627.0C1908.9 629.7 1915.6 632.2 1922.2 634.5C1928.9 636.7 1935.6 638.7 1942.4 640.4C1949.2 642.2 1956.0 643.6 1962.9 644.8C1969.7 646.1 1976.7 647.0 1983.6 647.8C1990.5 648.5 1997.5 649.0 2004.5 649.3C2011.4 649.5 2018.4 649.5 2025.4 649.4C2032.4 649.2 2039.5 648.7 2046.5 648.1C2053.5 647.5 2060.5 646.7 2067.4 645.7C2074.4 644.8 2081.4 643.6 2088.3 642.3C2095.3 641.0 2102.2 639.4 2109.0 637.8C2115.9 636.2 2122.8 634.4 2129.5 632.5C2136.3 630.6 2143.0 628.5 2149.7 626.4C2156.4 624.2 2166.2 620.7 2169.5 619.6L2169.5 619.6C2169.5 623.0 2170.1 633.3 2169.3 639.7C2168.5 646.1 2166.9 652.2 2164.8 658.0C2162.8 663.9 2160.0 669.5 2156.9 674.9C2153.8 680.3 2150.1 685.4 2146.2 690.4C2142.3 695.4 2137.9 700.1 2133.5 704.7C2129.0 709.2 2124.3 713.6 2119.5 717.8C2114.6 722.1 2109.7 726.1 2104.6 730.0C2099.5 733.9 2094.3 737.6 2089.0 741.1C2083.7 744.6 2078.2 747.9 2072.7 751.1C2067.2 754.2 2061.5 757.2 2055.8 760.0C2050.1 762.8 2044.3 765.4 2038.4 767.7C2032.6 770.1 2026.6 772.3 2020.6 774.3C2014.6 776.3 2008.5 778.1 2002.4 779.7C1996.3 781.3 1990.1 782.6 1983.9 783.8C1977.7 785.0 1971.5 786.0 1965.2 786.9C1958.9 787.8 1952.6 788.5 1946.3 789.1C1940.0 789.8 1933.6 790.3 1927.3 790.8C1920.9 791.3 1914.5 791.7 1908.1 792.1C1901.8 792.5 1895.4 792.9 1889.0 793.3C1882.6 793.6 1876.2 794.0 1869.8 794.4C1863.4 794.8 1857.0 795.2 1850.6 795.8C1844.2 796.3 1837.9 796.9 1831.5 797.6C1825.2 798.3 1818.9 799.0 1812.5 799.9C1806.2 800.8 1799.9 801.7 1793.6 802.8C1787.3 803.8 1781.1 804.9 1774.8 806.1C1768.5 807.3 1762.3 808.6 1756.0 810.0C1749.8 811.4 1743.5 812.8 1737.3 814.4C1731.0 816.0 1724.8 817.6 1718.6 819.5C1712.4 821.3 1706.2 823.2 1700.1 825.3C1694.0 827.4 1688.0 829.7 1682.0 832.2C1676.0 834.7 1670.1 837.3 1664.2 840.2C1658.4 843.1 1652.7 846.3 1647.1 849.7C1641.5 853.0 1636.0 856.8 1630.8 860.3C1625.6 863.9 1620.5 867.2 1615.7 870.9C1610.9 874.6 1606.4 878.3 1602.2 882.4C1598.0 886.6 1594.2 891.1 1590.5 895.8C1586.9 900.5 1583.5 905.3 1580.3 910.4C1577.1 915.5 1574.1 920.8 1571.1 926.2C1568.1 931.6 1565.2 937.1 1562.3 942.6C1559.4 948.1 1556.6 953.6 1553.8 959.2C1551.1 964.7 1548.4 970.3 1545.7 975.9C1543.0 981.6 1540.4 987.3 1537.8 993.0C1535.3 998.8 1532.7 1004.6 1530.3 1010.4C1527.8 1016.2 1525.3 1022.1 1522.9 1028.0C1520.5 1033.8 1518.2 1039.8 1515.9 1045.7C1513.6 1051.7 1511.3 1057.7 1509.1 1063.7C1506.8 1069.7 1504.6 1075.7 1502.5 1081.8C1500.3 1087.8 1498.2 1093.9 1496.1 1100.0C1494.0 1106.0 1491.9 1112.1 1489.9 1118.2C1487.9 1124.3 1485.9 1130.4 1483.9 1136.5C1482.0 1142.6 1480.0 1148.7 1478.1 1154.8C1476.2 1160.9 1474.3 1167.0 1472.5 1173.1C1470.6 1179.1 1468.8 1185.2 1467.0 1191.2C1465.2 1197.3 1463.4 1203.3 1461.6 1209.3C1459.8 1215.4 1458.0 1221.4 1456.2 1227.4C1454.4 1233.4 1452.6 1239.4 1450.8 1245.4C1449.0 1251.4 1447.1 1257.5 1445.2 1263.5C1443.4 1269.5 1441.5 1275.5 1439.5 1281.5C1437.6 1287.5 1435.6 1293.5 1433.5 1299.6C1431.5 1305.6 1429.4 1311.7 1427.2 1317.7C1425.0 1323.8 1422.8 1329.8 1420.5 1335.9C1418.2 1342.0 1415.8 1348.1 1413.3 1354.2C1410.8 1360.3 1408.3 1366.6 1405.6 1372.6C1402.8 1378.6 1400.0 1384.8 1396.7 1390.3C1393.4 1395.9 1389.9 1401.3 1385.7 1405.9C1381.5 1410.5 1376.7 1414.8 1371.5 1417.8C1366.4 1420.7 1360.3 1423.1 1354.6 1423.8C1348.8 1424.4 1342.7 1423.3 1337.0 1421.6C1331.3 1419.8 1325.7 1416.5 1320.4 1413.3C1315.1 1410.1 1310.1 1406.3 1305.3 1402.3C1300.5 1398.3 1295.9 1393.9 1291.4 1389.4C1287.0 1384.8 1282.8 1379.9 1278.6 1375.0C1274.4 1370.0 1270.4 1364.8 1266.4 1359.6C1262.4 1354.5 1258.5 1349.2 1254.5 1344.0C1250.6 1338.8 1246.7 1333.5 1242.7 1328.4C1238.8 1323.4 1234.8 1318.3 1230.8 1313.4C1226.7 1308.4 1222.7 1303.5 1218.6 1298.7C1214.5 1293.9 1210.4 1289.1 1206.2 1284.4C1202.0 1279.7 1197.8 1275.1 1193.5 1270.5C1189.2 1265.9 1184.9 1261.3 1180.5 1256.8C1176.1 1252.3 1171.6 1247.8 1167.1 1243.3C1162.6 1238.9 1158.0 1234.5 1153.3 1230.1C1148.7 1225.8 1143.9 1221.5 1139.1 1217.3C1134.3 1213.1 1129.5 1208.9 1124.5 1204.8C1119.6 1200.7 1114.6 1196.7 1109.6 1192.9C1104.5 1189.0 1099.4 1185.1 1094.2 1181.4C1088.9 1177.8 1083.7 1174.2 1078.3 1170.7C1073.0 1167.2 1067.6 1163.9 1062.1 1160.6C1056.6 1157.4 1051.1 1154.3 1045.4 1151.4C1039.8 1148.4 1034.1 1145.6 1028.4 1143.0C1022.6 1140.3 1016.8 1137.8 1010.9 1135.4C1005.0 1133.0 999.1 1130.7 993.1 1128.5C987.1 1126.4 981.1 1124.3 975.0 1122.4C969.0 1120.4 962.9 1118.5 956.7 1116.8C950.6 1115.0 944.4 1113.3 938.3 1111.7C932.1 1110.1 925.9 1108.5 919.6 1107.1C913.4 1105.6 907.2 1104.2 900.9 1102.8C894.7 1101.4 888.5 1100.1 882.2 1098.8C876.0 1097.6 869.7 1096.3 863.4 1095.1C857.2 1094.0 850.9 1092.8 844.6 1091.7C838.4 1090.6 832.1 1089.6 825.8 1088.6C819.5 1087.5 813.2 1086.6 806.9 1085.6C800.6 1084.7 794.3 1083.8 788.0 1082.9C781.7 1082.0 775.4 1081.1 769.1 1080.3C762.8 1079.5 756.5 1078.7 750.2 1078.0C743.9 1077.2 737.6 1076.5 731.2 1075.7C724.9 1075.0 718.6 1074.3 712.3 1073.7C705.9 1073.0 699.6 1072.3 693.3 1071.7C686.9 1071.1 680.6 1070.4 674.3 1069.8C667.9 1069.2 661.6 1068.6 655.2 1068.1C648.9 1067.5 642.6 1066.9 636.2 1066.4C629.9 1065.8 623.5 1065.2 617.2 1064.7C610.8 1064.1 604.5 1063.6 598.1 1063.1C591.8 1062.5 585.5 1062.0 579.1 1061.4C572.8 1060.9 566.4 1060.4 560.1 1059.8C553.7 1059.3 547.4 1058.8 541.0 1058.3C534.7 1057.7 528.3 1057.2 522.0 1056.7C515.6 1056.2 509.3 1055.7 502.9 1055.2C496.6 1054.7 490.2 1054.3 483.8 1053.8C477.5 1053.3 471.1 1052.9 464.8 1052.4C458.4 1052.0 452.1 1051.5 445.7 1051.1C439.4 1050.7 433.0 1050.3 426.7 1049.9C420.3 1049.5 413.9 1049.1 407.6 1048.7C401.2 1048.4 394.9 1048.0 388.5 1047.7C382.1 1047.4 375.8 1047.1 369.4 1046.8C363.1 1046.5 356.7 1046.2 350.3 1046.0C344.0 1045.7 337.6 1045.5 331.2 1045.3C324.9 1045.1 318.5 1044.9 312.1 1044.7C305.8 1044.5 296.2 1044.4 293.0 1044.3" stroke="#800080" stroke-width="8"/>
<path d="M293.5 1008.0C297.0 1007.9 307.5 1007.5 314.6 1007.3C321.6 1007.0 328.6 1006.8 335.6 1006.6C342.6 1006.4 349.7 1006.2 356.7 1006.0C363.7 1005.8 370.8 1005.7 377.8 1005.5C384.8 1005.3 391.8 1005.1 398.9 1005.0C405.9 1004.8 412.9 1004.7 420.0 1004.6C427.0 1004.4 434.0 1004.3 441.1 1004.2C448.1 1004.1 455.2 1004.0 462.2 1003.9C469.2 1003.8 476.3 1003.7 483.3 1003.6C490.4 1003.5 497.4 1003.4 504.4 1003.3C511.5 1003.3 518.5 1003.2 525.6 1003.1C532.6 1003.1 539.7 1003.0 546.7 1003.0C553.7 1002.9 560.8 1002.9 567.8 1002.9C574.9 1002.8 581.9 1002.8 589.0 1002.8C596.0 1002.8 603.1 1002.7 610.1 1002.7C617.2 1002.7 624.2 1002.7 631.3 1002.7C638.3 1002.7 645.4 1002.7 652.4 1002.7C659.4 1002.7 666.5 1002.7 673.5 1002.7C680.6 1002.8 687.6 1002.8 694.7 1002.8C701.7 1002.8 708.8 1002.9 715.8 1002.9C722.9 1002.9 729.9 1002.9 737.0 1003.0C744.0 1003.0 751.0 1003.1 758.1 1003.1C765.1 1003.1 772.2 1003.2 779.2 1003.2C786.3 1003.3 793.3 1003.3 800.3 1003.4C807.4 1003.4 814.4 1003.5 821.5 1003.5C828.5 1003.5 835.6 1003.6 842.6 1003.6C849.6 1003.7 856.7 1003.7 863.7 1003.8C870.8 1003.8 877.8 1003.8 884.8 1003.9C891.9 1003.9 898.9 1003.9 905.9 1004.0C913.0 1004.0 920.0 1004.0 927.1 1004.0C934.1 1004.0 941.1 1004.0 948.2 1004.0C955.2 1004.0 962.3 1004.0 969.3 1004.0C976.3 1004.0 983.4 1004.0 990.4 1004.0C997.5 1003.9 1004.5 1003.9 1011.5 1003.8C1018.6 1003.8 1025.6 1003.7 1032.7 1003.7C1039.7 1003.6 1046.7 1003.5 1053.8 1003.4C1060.8 1003.4 1067.9 1003.3 1074.9 1003.1C1081.9 1003.0 1089.0 1002.9 1096.0 1002.8C1103.1 1002.6 1110.1 1002.5 1117.1 1002.3C1124.2 1002.1 1131.2 1002.0 1138.3 1001.8C1145.3 1001.6 1152.4 1001.4 1159.4 1001.1C1166.5 1000.9 1173.5 1000.7 1180.6 1000.4C1187.6 1000.1 1194.6 999.9 1201.7 999.6C1208.7 999.3 1215.8 998.9 1222.8 998.6C1229.9 998.3 1236.9 997.9 1244.0 997.5C1251.0 997.2 1258.1 996.8 1265.2 996.4C1272.2 995.9 1279.3 995.5 1286.3 995.0C1293.4 994.5 1300.4 994.0 1307.4 993.3C1314.4 992.7 1321.4 991.9 1328.4 991.0C1335.4 990.1 1342.3 989.0 1349.2 987.7C1356.0 986.4 1362.9 984.9 1369.6 983.1C1376.4 981.3 1383.1 979.3 1389.7 976.9C1396.3 974.6 1402.9 971.9 1409.3 968.9C1415.7 965.8 1422.1 962.5 1428.2 958.8C1434.2 955.1 1440.2 951.0 1445.7 946.7C1451.2 942.3 1456.5 937.6 1461.4 932.6C1466.2 927.6 1470.7 922.2 1474.7 916.6C1478.7 910.9 1482.3 904.9 1485.5 898.8C1488.8 892.6 1491.6 886.2 1494.3 879.6C1496.9 873.0 1499.2 866.3 1501.3 859.4C1503.4 852.6 1505.3 845.7 1507.1 838.7C1508.9 831.8 1510.5 824.7 1512.1 817.8C1513.7 810.8 1515.2 803.9 1516.6 797.0C1518.1 790.1 1519.5 783.3 1520.8 776.4C1522.2 769.5 1523.5 762.7 1524.7 755.9C1525.9 749.0 1527.0 742.1 1528.1 735.2C1529.2 728.3 1530.2 721.4 1531.1 714.4C1532.1 707.5 1533.0 700.5 1533.8 693.5C1534.6 686.5 1535.4 679.5 1536.2 672.5C1536.9 665.4 1537.7 658.4 1538.3 651.4C1539.0 644.3 1539.7 637.3 1540.4 630.2C1541.0 623.2 1541.7 616.1 1542.3 609.0C1542.9 602.0 1543.6 595.0 1544.2 587.9C1544.9 580.9 1545.5 573.9 1546.2 566.9C1546.8 559.9 1547.5 552.9 1548.2 545.9C1548.8 538.9 1549.5 531.9 1550.2 524.9C1550.9 517.9 1551.6 510.9 1552.3 503.9C1553.0 497.0 1553.7 490.0 1554.4 483.0C1555.1 476.0 1555.8 469.1 1556.5 462.1C1557.2 455.1 1558.0 448.1 1558.7 441.1C1559.4 434.1 1560.1 427.1 1560.9 420.1C1561.6 413.1 1562.3 406.1 1563.1 399.1C1563.8 392.0 1564.6 385.0 1565.3 377.9C1566.1 370.9 1566.8 363.8 1567.5 356.7C1568.3 349.7 1569.0 342.5 1569.8 335.5C1570.6 328.4 1571.4 321.3 1572.3 314.4C1573.3 307.4 1574.2 300.5 1575.4 293.8C1576.5 287.1 1577.8 280.8 1579.3 274.1C1580.7 267.4 1582.2 261.1 1583.9 253.8C1585.7 246.6 1586.9 237.5 1589.8 230.6C1592.7 223.8 1596.7 215.7 1601.5 212.8C1606.3 209.8 1614.0 210.2 1618.7 213.1C1623.4 216.1 1626.6 224.2 1629.7 230.7C1632.8 237.2 1634.9 245.0 1637.4 252.0C1639.9 259.0 1642.2 265.9 1644.4 272.8C1646.7 279.6 1648.9 286.4 1651.1 293.1C1653.3 299.8 1655.4 306.4 1657.7 313.1C1659.9 319.7 1662.1 326.3 1664.5 332.8C1666.8 339.4 1669.2 345.9 1671.8 352.5C1674.3 359.0 1676.9 365.5 1679.6 371.9C1682.3 378.4 1685.2 384.8 1688.1 391.2C1691.0 397.5 1694.1 403.9 1697.2 410.1C1700.4 416.4 1703.6 422.6 1707.0 428.6C1710.4 434.5 1713.9 440.3 1717.5 445.9C1721.1 451.6 1724.8 457.0 1728.7 462.5C1732.6 468.0 1736.6 473.5 1740.7 478.9C1744.8 484.4 1749.1 489.8 1753.5 495.1C1757.9 500.5 1762.4 505.6 1767.1 510.8C1771.8 515.9 1776.7 520.9 1781.6 526.0C1786.6 531.0 1791.7 536.1 1797.0 541.1C1802.3 546.1 1807.7 551.1 1813.2 555.8C1818.7 560.5 1824.4 564.9 1830.1 569.2C1835.9 573.5 1841.8 577.6 1847.8 581.6C1853.8 585.5 1859.9 589.3 1866.0 592.9C1872.2 596.6 1878.5 600.0 1884.8 603.3C1891.2 606.6 1897.6 609.7 1904.1 612.6C1910.7 615.6 1917.2 618.3 1923.9 620.9C1930.5 623.4 1937.2 625.7 1944.0 627.8C1950.7 629.9 1957.5 631.7 1964.3 633.3C1971.2 635.0 1978.0 636.4 1984.9 637.6C1991.8 638.9 1998.7 639.9 2005.7 640.7C2012.6 641.4 2019.6 642.0 2026.5 642.3C2033.5 642.7 2040.5 642.8 2047.4 642.6C2054.4 642.5 2061.3 642.1 2068.2 641.5C2075.2 640.8 2082.1 640.0 2089.0 638.8C2095.9 637.7 2102.7 636.3 2109.5 634.7C2116.3 633.0 2123.1 631.1 2129.8 628.9C2136.6 626.7 2143.3 624.3 2149.9 621.6C2156.5 618.8 2166.2 614.0 2169.5 612.5L2169.5 612.5C2169.5 615.9 2170.1 626.3 2169.4 632.7C2168.6 639.1 2167.1 645.1 2165.0 650.9C2163.0 656.7 2160.2 662.2 2157.1 667.5C2154.0 672.8 2150.3 677.8 2146.4 682.7C2142.5 687.5 2138.1 692.1 2133.6 696.6C2129.1 701.1 2124.2 705.4 2119.4 709.6C2114.5 713.7 2109.5 717.8 2104.4 721.7C2099.3 725.6 2094.1 729.3 2088.8 732.7C2083.5 736.1 2078.1 739.3 2072.4 742.1C2066.8 744.8 2061.0 747.2 2055.2 749.3C2049.3 751.4 2043.2 753.1 2037.1 754.6C2031.0 756.1 2024.8 757.4 2018.5 758.5C2012.3 759.7 2006.0 760.6 1999.7 761.6C1993.4 762.6 1987.1 763.4 1980.8 764.2C1974.5 765.1 1968.3 765.8 1962.0 766.6C1955.7 767.4 1949.4 768.1 1943.1 768.8C1936.9 769.5 1930.6 770.2 1924.3 770.9C1918.0 771.6 1911.8 772.3 1905.5 773.0C1899.2 773.7 1893.0 774.4 1886.7 775.1C1880.4 775.9 1874.2 776.6 1867.9 777.4C1861.7 778.1 1855.4 778.9 1849.1 779.7C1842.9 780.5 1836.6 781.4 1830.4 782.3C1824.1 783.2 1817.9 784.2 1811.7 785.2C1805.4 786.2 1799.2 787.3 1792.9 788.5C1786.7 789.7 1780.5 790.9 1774.2 792.2C1768.0 793.6 1761.8 795.0 1755.6 796.5C1749.3 798.0 1743.1 799.7 1736.9 801.4C1730.7 803.2 1724.5 805.1 1718.3 807.1C1712.2 809.1 1706.0 811.3 1700.0 813.6C1693.9 815.9 1687.9 818.4 1682.0 821.1C1676.2 823.7 1670.3 826.5 1664.7 829.5C1659.0 832.5 1653.4 835.8 1648.0 839.2C1642.6 842.5 1637.4 846.3 1632.3 849.8C1627.2 853.4 1622.3 856.9 1617.6 860.6C1613.0 864.3 1608.5 867.9 1604.2 871.9C1600.0 876.0 1596.0 880.5 1592.1 885.0C1588.3 889.6 1584.8 894.3 1581.3 899.3C1577.9 904.2 1574.6 909.5 1571.5 914.8C1568.3 920.2 1565.3 925.7 1562.4 931.2C1559.4 936.7 1556.6 942.2 1553.8 947.8C1551.0 953.3 1548.3 958.9 1545.6 964.5C1543.0 970.1 1540.4 975.8 1537.9 981.5C1535.3 987.2 1532.9 992.9 1530.4 998.7C1528.0 1004.5 1525.6 1010.2 1523.3 1016.1C1520.9 1021.9 1518.6 1027.7 1516.3 1033.6C1514.0 1039.5 1511.7 1045.4 1509.5 1051.3C1507.3 1057.2 1505.0 1063.2 1502.9 1069.1C1500.7 1075.1 1498.5 1081.1 1496.4 1087.1C1494.3 1093.1 1492.2 1099.1 1490.1 1105.2C1488.1 1111.2 1486.0 1117.3 1484.0 1123.3C1482.0 1129.4 1480.1 1135.4 1478.1 1141.5C1476.2 1147.5 1474.3 1153.6 1472.4 1159.6C1470.5 1165.7 1468.7 1171.7 1466.8 1177.8C1465.0 1183.8 1463.2 1189.9 1461.5 1195.9C1459.7 1201.9 1457.9 1207.9 1456.1 1214.0C1454.4 1220.0 1452.6 1226.0 1450.8 1232.0C1449.0 1238.0 1447.2 1244.0 1445.4 1249.9C1443.5 1255.9 1441.6 1261.9 1439.7 1267.8C1437.7 1273.8 1435.7 1279.8 1433.7 1285.7C1431.6 1291.7 1429.5 1297.6 1427.2 1303.5C1425.0 1309.4 1422.7 1315.4 1420.3 1321.3C1417.8 1327.2 1415.3 1333.1 1412.7 1339.0C1410.0 1344.9 1407.3 1350.8 1404.4 1356.6C1401.4 1362.5 1398.5 1368.5 1395.1 1374.0C1391.7 1379.6 1388.3 1385.2 1384.1 1389.9C1379.9 1394.6 1375.3 1399.3 1370.2 1402.4C1365.0 1405.6 1358.8 1408.6 1353.2 1409.0C1347.5 1409.4 1341.6 1407.1 1336.1 1404.7C1330.7 1402.3 1325.5 1398.3 1320.5 1394.7C1315.4 1391.1 1310.7 1387.2 1306.0 1383.1C1301.3 1379.0 1296.8 1374.6 1292.5 1370.1C1288.1 1365.6 1283.8 1360.9 1279.6 1356.1C1275.4 1351.4 1271.4 1346.4 1267.3 1341.5C1263.2 1336.5 1259.2 1331.5 1255.2 1326.5C1251.1 1321.5 1247.1 1316.4 1243.1 1311.4C1239.1 1306.4 1235.0 1301.4 1231.0 1296.5C1226.9 1291.5 1222.8 1286.5 1218.7 1281.7C1214.5 1276.8 1210.3 1271.9 1206.1 1267.2C1201.9 1262.4 1197.6 1257.7 1193.2 1253.1C1188.8 1248.5 1184.4 1244.0 1179.9 1239.5C1175.4 1235.1 1170.8 1230.8 1166.1 1226.6C1161.4 1222.3 1156.6 1218.2 1151.8 1214.2C1146.9 1210.2 1142.0 1206.2 1137.0 1202.4C1132.1 1198.6 1127.0 1194.9 1121.9 1191.2C1116.8 1187.6 1111.6 1184.0 1106.3 1180.6C1101.1 1177.1 1095.8 1173.8 1090.4 1170.5C1085.0 1167.2 1079.6 1164.1 1074.1 1161.0C1068.6 1157.9 1063.1 1154.9 1057.5 1152.0C1051.9 1149.1 1046.3 1146.2 1040.6 1143.5C1034.9 1140.8 1029.2 1138.1 1023.4 1135.6C1017.7 1133.0 1011.8 1130.5 1006.0 1128.1C1000.1 1125.7 994.3 1123.4 988.3 1121.2C982.4 1118.9 976.5 1116.8 970.5 1114.7C964.5 1112.6 958.5 1110.6 952.4 1108.7C946.4 1106.8 940.3 1105.0 934.3 1103.2C928.2 1101.4 922.1 1099.8 915.9 1098.2C909.8 1096.5 903.7 1095.0 897.5 1093.5C891.4 1092.1 885.2 1090.7 879.0 1089.4C872.8 1088.0 866.6 1086.8 860.4 1085.6C854.2 1084.4 848.0 1083.2 841.8 1082.1C835.5 1081.1 829.3 1080.0 823.1 1079.1C816.8 1078.1 810.5 1077.2 804.3 1076.3C798.0 1075.4 791.7 1074.5 785.5 1073.7C779.2 1072.9 772.9 1072.2 766.6 1071.5C760.3 1070.7 754.0 1070.1 747.7 1069.4C741.4 1068.7 735.1 1068.1 728.7 1067.5C722.4 1066.9 716.1 1066.3 709.8 1065.7C703.5 1065.2 697.2 1064.6 690.8 1064.1C684.5 1063.5 678.2 1063.0 671.9 1062.5C665.5 1062.0 659.2 1061.5 652.9 1061.0C646.6 1060.5 640.2 1060.0 633.9 1059.5C627.6 1059.0 621.3 1058.4 615.0 1057.9C608.7 1057.4 602.3 1056.9 596.0 1056.4C589.7 1055.8 583.4 1055.3 577.1 1054.7C570.8 1054.1 564.5 1053.6 558.3 1053.0C552.0 1052.4 545.7 1051.9 539.4 1051.3C533.1 1050.7 526.8 1050.1 520.5 1049.5C514.3 1049.0 508.0 1048.4 501.7 1047.8C495.4 1047.3 489.1 1046.7 482.9 1046.1C476.6 1045.6 470.3 1045.1 464.0 1044.5C457.7 1044.0 451.4 1043.5 445.2 1043.0C438.9 1042.5 432.6 1042.1 426.3 1041.6C420.0 1041.2 413.7 1040.8 407.4 1040.4C401.1 1040.0 394.8 1039.6 388.5 1039.3C382.2 1039.0 375.9 1038.6 369.5 1038.4C363.2 1038.1 356.9 1037.9 350.5 1037.7C344.2 1037.5 337.9 1037.4 331.5 1037.3C325.2 1037.2 318.8 1037.1 312.4 1037.1C306.1 1037.1 296.5 1037.2 293.3 1037.2" stroke="#ffff00" stroke-width="8"/>
<path d="M293.5 1008.0C297.0 1007.9 307.6 1007.5 314.7 1007.3C321.8 1007.0 328.9 1006.8 335.9 1006.6C343.0 1006.4 350.1 1006.2 357.1 1006.0C364.2 1005.8 371.3 1005.6 378.4 1005.5C385.5 1005.3 392.5 1005.1 399.6 1005.0C406.7 1004.8 413.8 1004.7 420.9 1004.6C427.9 1004.4 435.0 1004.3 442.1 1004.2C449.2 1004.1 456.3 1003.9 463.4 1003.8C470.4 1003.7 477.5 1003.6 484.6 1003.6C491.7 1003.5 498.8 1003.4 505.9 1003.3C513.0 1003.3 520.0 1003.2 527.1 1003.1C534.2 1003.1 541.3 1003.0 548.4 1003.0C555.5 1002.9 562.6 1002.9 569.7 1002.9C576.8 1002.8 583.9 1002.8 590.9 1002.8C598.0 1002.8 605.1 1002.7 612.2 1002.7C619.3 1002.7 626.4 1002.7 633.5 1002.7C640.6 1002.7 647.7 1002.7 654.8 1002.7C661.9 1002.7 669.0 1002.7 676.0 1002.8C683.1 1002.8 690.2 1002.8 697.3 1002.8C704.4 1002.8 711.5 1002.9 718.6 1002.9C725.7 1002.9 732.8 1003.0 739.9 1003.0C747.0 1003.0 754.1 1003.1 761.2 1003.1C768.2 1003.2 775.3 1003.2 782.4 1003.2C789.5 1003.3 796.6 1003.3 803.7 1003.4C810.8 1003.4 817.9 1003.5 825.0 1003.5C832.1 1003.6 839.2 1003.6 846.3 1003.6C853.3 1003.7 860.4 1003.7 867.5 1003.8C874.6 1003.8 881.7 1003.8 888.8 1003.9C895.9 1003.9 903.0 1003.9 910.1 1004.0C917.2 1004.0 924.2 1004.0 931.3 1004.0C938.4 1004.0 945.5 1004.0 952.6 1004.0C959.7 1004.0 966.8 1004.0 973.9 1004.0C981.0 1004.0 988.0 1004.0 995.1 1003.9C1002.2 1003.9 1009.3 1003.9 1016.4 1003.8C1023.5 1003.8 1030.6 1003.7 1037.7 1003.6C1044.7 1003.6 1051.8 1003.5 1058.9 1003.4C1066.0 1003.3 1073.1 1003.2 1080.2 1003.1C1087.3 1003.0 1094.3 1002.8 1101.4 1002.7C1108.5 1002.5 1115.6 1002.4 1122.7 1002.2C1129.8 1002.0 1136.9 1001.9 1144.0 1001.7C1151.0 1001.5 1158.1 1001.2 1165.2 1001.0C1172.3 1000.8 1179.4 1000.5 1186.5 1000.3C1193.5 1000.0 1200.6 999.7 1207.7 999.4C1214.8 999.1 1221.9 998.8 1229.0 998.4C1236.1 998.1 1243.1 997.7 1250.2 997.4C1257.3 997.0 1264.4 996.6 1271.5 996.2C1278.6 995.7 1285.6 995.3 1292.7 994.8C1299.8 994.3 1306.9 993.7 1313.9 993.0C1320.9 992.3 1328.0 991.6 1335.0 990.6C1342.0 989.6 1348.9 988.5 1355.9 987.2C1362.8 985.8 1369.7 984.3 1376.5 982.4C1383.3 980.6 1390.1 978.6 1396.8 976.1C1403.6 973.7 1410.3 971.0 1416.8 968.0C1423.3 965.0 1429.8 961.6 1436.0 957.9C1442.2 954.2 1448.2 950.2 1453.8 945.9C1459.5 941.5 1464.9 936.9 1469.8 931.9C1474.8 926.9 1479.3 921.6 1483.4 916.0C1487.5 910.4 1491.2 904.4 1494.5 898.3C1497.8 892.2 1500.8 885.7 1503.5 879.2C1506.2 872.7 1508.5 865.9 1510.8 859.1C1513.0 852.3 1514.9 845.3 1516.8 838.4C1518.7 831.4 1520.3 824.3 1522.0 817.3C1523.6 810.3 1525.2 803.3 1526.7 796.3C1528.2 789.4 1529.7 782.4 1531.1 775.4C1532.5 768.5 1533.8 761.6 1535.1 754.6C1536.3 747.7 1537.5 740.7 1538.6 733.8C1539.7 726.8 1540.7 719.8 1541.7 712.8C1542.6 705.9 1543.5 698.9 1544.4 691.9C1545.2 684.9 1546.0 677.9 1546.7 670.8C1547.5 663.8 1548.2 656.8 1548.8 649.8C1549.5 642.7 1550.1 635.7 1550.8 628.6C1551.4 621.6 1552.0 614.5 1552.6 607.4C1553.2 600.4 1553.8 593.3 1554.4 586.2C1555.0 579.2 1555.6 572.1 1556.2 565.0C1556.8 557.9 1557.4 550.8 1558.0 543.7C1558.7 536.6 1559.3 529.5 1559.9 522.4C1560.6 515.3 1561.2 508.2 1561.9 501.1C1562.5 494.0 1563.2 487.0 1563.9 479.9C1564.5 472.8 1565.2 465.7 1565.9 458.6C1566.6 451.6 1567.3 444.5 1568.1 437.4C1568.8 430.4 1569.5 423.3 1570.3 416.3C1571.1 409.3 1571.8 402.2 1572.6 395.2C1573.4 388.2 1574.2 381.2 1575.0 374.2C1575.8 367.2 1576.7 360.3 1577.5 353.3C1578.4 346.4 1579.3 339.5 1580.2 332.5C1581.1 325.6 1582.0 318.6 1583.0 311.7C1583.9 304.7 1584.9 297.7 1585.9 290.7C1586.9 283.6 1588.0 276.5 1589.0 269.4C1590.1 262.2 1591.2 254.9 1592.4 247.7C1593.6 240.4 1594.3 232.6 1596.3 225.6C1598.3 218.6 1600.4 210.9 1604.3 205.6C1608.2 200.4 1614.7 193.9 1619.5 194.2C1624.4 194.5 1629.6 201.5 1633.5 207.2C1637.3 212.9 1639.9 221.5 1642.7 228.5C1645.5 235.4 1647.9 242.3 1650.3 249.2C1652.7 256.0 1654.9 262.8 1657.1 269.6C1659.2 276.3 1661.3 283.0 1663.4 289.6C1665.5 296.3 1667.6 303.0 1669.9 309.6C1672.1 316.2 1674.4 322.9 1676.8 329.5C1679.2 336.1 1681.7 342.7 1684.3 349.3C1686.9 355.8 1689.6 362.4 1692.4 368.8C1695.2 375.3 1698.1 381.9 1701.1 388.2C1704.2 394.5 1707.3 400.7 1710.5 406.8C1713.8 412.8 1717.1 418.7 1720.6 424.4C1724.1 430.2 1727.7 435.8 1731.4 441.4C1735.2 447.1 1739.0 452.7 1743.0 458.2C1747.0 463.7 1751.1 469.1 1755.4 474.4C1759.7 479.7 1764.1 484.9 1768.6 490.1C1773.2 495.3 1777.9 500.5 1782.7 505.7C1787.5 510.9 1792.5 516.2 1797.7 521.3C1802.8 526.3 1808.0 531.4 1813.4 536.3C1818.8 541.1 1824.3 545.9 1829.9 550.5C1835.5 555.1 1841.3 559.6 1847.1 564.0C1852.9 568.4 1858.9 572.7 1864.9 576.7C1871.0 580.8 1877.1 584.7 1883.3 588.5C1889.5 592.2 1895.8 595.8 1902.2 599.3C1908.6 602.7 1915.1 606.0 1921.6 609.0C1928.1 612.0 1934.7 614.9 1941.4 617.4C1948.0 619.9 1954.8 622.1 1961.5 624.1C1968.3 626.1 1975.1 627.9 1981.9 629.5C1988.8 631.1 1995.7 632.5 2002.6 633.7C2009.5 634.9 2016.5 635.9 2023.4 636.6C2030.4 637.4 2037.4 637.9 2044.4 638.2C2051.4 638.5 2058.4 638.5 2065.4 638.3C2072.4 638.2 2079.4 637.7 2086.4 637.1C2093.5 636.4 2100.5 635.5 2107.4 634.3C2114.4 633.1 2121.4 631.7 2128.3 630.0C2135.2 628.3 2142.1 626.3 2149.0 624.1C2155.9 621.9 2166.1 617.8 2169.5 616.6L2169.5 616.6C2169.3 619.8 2169.4 629.5 2168.4 635.7C2167.3 641.9 2165.5 647.9 2163.3 653.6C2161.0 659.4 2158.1 664.9 2154.8 670.2C2151.5 675.5 2147.7 680.5 2143.5 685.3C2139.4 690.0 2134.8 694.5 2130.1 698.6C2125.3 702.8 2120.2 706.7 2115.0 710.2C2109.8 713.7 2104.3 716.9 2098.8 719.8C2093.3 722.7 2087.6 725.3 2081.9 727.6C2076.1 730.0 2070.2 732.0 2064.3 733.9C2058.3 735.8 2052.3 737.5 2046.2 739.0C2040.1 740.5 2033.9 741.9 2027.7 743.1C2021.6 744.4 2015.3 745.5 2009.1 746.6C2002.9 747.7 1996.6 748.6 1990.4 749.6C1984.2 750.6 1978.0 751.5 1971.7 752.4C1965.5 753.4 1959.3 754.2 1953.1 755.1C1946.9 756.0 1940.6 756.9 1934.4 757.7C1928.2 758.6 1922.0 759.5 1915.8 760.3C1909.6 761.2 1903.4 762.1 1897.2 762.9C1891.0 763.8 1884.8 764.7 1878.6 765.6C1872.4 766.5 1866.2 767.4 1860.0 768.4C1853.8 769.3 1847.6 770.3 1841.5 771.3C1835.3 772.3 1829.1 773.3 1822.9 774.4C1816.7 775.5 1810.5 776.6 1804.4 777.8C1798.2 779.0 1792.0 780.3 1785.9 781.6C1779.7 782.9 1773.5 784.3 1767.3 785.7C1761.2 787.1 1755.0 788.6 1748.8 790.3C1742.7 791.9 1736.5 793.6 1730.4 795.4C1724.2 797.2 1718.1 799.1 1712.0 801.2C1705.9 803.2 1699.9 805.4 1693.9 807.7C1688.0 810.1 1682.0 812.6 1676.2 815.2C1670.5 817.9 1664.7 820.6 1659.2 823.6C1653.6 826.7 1648.1 829.9 1642.8 833.3C1637.5 836.6 1632.4 840.2 1627.4 843.7C1622.4 847.2 1617.6 850.4 1613.0 854.1C1608.4 857.7 1604.0 861.5 1599.9 865.6C1595.7 869.8 1591.7 874.2 1588.0 878.8C1584.2 883.4 1580.7 888.2 1577.3 893.3C1573.9 898.4 1570.7 903.8 1567.5 909.2C1564.4 914.6 1561.5 920.2 1558.6 925.7C1555.8 931.2 1553.0 936.8 1550.3 942.4C1547.7 947.9 1545.1 953.5 1542.6 959.1C1540.1 964.8 1537.6 970.4 1535.2 976.1C1532.8 981.8 1530.5 987.5 1528.2 993.2C1525.9 998.9 1523.6 1004.6 1521.3 1010.4C1519.0 1016.1 1516.8 1021.9 1514.5 1027.7C1512.3 1033.5 1510.0 1039.4 1507.8 1045.2C1505.5 1051.1 1503.3 1057.0 1501.1 1062.9C1498.9 1068.8 1496.7 1074.8 1494.5 1080.7C1492.3 1086.7 1490.1 1092.7 1488.0 1098.6C1485.9 1104.6 1483.8 1110.6 1481.7 1116.6C1479.6 1122.6 1477.6 1128.6 1475.6 1134.6C1473.6 1140.6 1471.6 1146.6 1469.6 1152.6C1467.7 1158.6 1465.8 1164.6 1464.0 1170.6C1462.1 1176.6 1460.3 1182.6 1458.6 1188.6C1456.8 1194.6 1455.1 1200.5 1453.4 1206.5C1451.6 1212.4 1449.9 1218.4 1448.2 1224.3C1446.4 1230.2 1444.7 1236.2 1442.9 1242.1C1441.1 1248.0 1439.3 1253.9 1437.4 1259.8C1435.5 1265.7 1433.6 1271.6 1431.5 1277.5C1429.5 1283.3 1427.3 1289.2 1425.1 1295.1C1422.8 1300.9 1420.5 1306.8 1418.0 1312.6C1415.5 1318.5 1412.9 1324.3 1410.1 1330.1C1407.4 1335.9 1404.4 1341.7 1401.3 1347.5C1398.2 1353.3 1395.0 1359.3 1391.4 1364.8C1387.8 1370.3 1384.1 1376.0 1379.9 1380.5C1375.7 1385.0 1371.1 1389.2 1366.1 1391.7C1361.0 1394.3 1355.1 1395.9 1349.6 1395.8C1344.1 1395.7 1338.2 1393.9 1332.9 1391.1C1327.6 1388.4 1322.7 1383.5 1317.8 1379.3C1313.0 1375.1 1308.4 1370.2 1303.8 1365.8C1299.3 1361.3 1294.8 1356.9 1290.5 1352.4C1286.1 1348.0 1281.8 1343.6 1277.6 1339.1C1273.3 1334.6 1269.2 1330.1 1265.0 1325.5C1260.8 1320.9 1256.7 1316.2 1252.6 1311.5C1248.5 1306.8 1244.4 1302.0 1240.3 1297.2C1236.1 1292.4 1232.0 1287.6 1227.8 1282.8C1223.7 1278.0 1219.5 1273.2 1215.3 1268.4C1211.1 1263.6 1206.8 1258.9 1202.5 1254.2C1198.1 1249.6 1193.8 1245.0 1189.3 1240.5C1184.8 1236.0 1180.3 1231.6 1175.7 1227.3C1171.1 1223.0 1166.4 1218.8 1161.7 1214.6C1156.9 1210.5 1152.1 1206.5 1147.2 1202.6C1142.3 1198.7 1137.3 1194.9 1132.3 1191.2C1127.3 1187.5 1122.2 1183.9 1117.0 1180.4C1111.9 1176.8 1106.7 1173.4 1101.4 1170.1C1096.1 1166.7 1090.8 1163.5 1085.4 1160.3C1080.0 1157.2 1074.6 1154.1 1069.1 1151.1C1063.6 1148.2 1058.1 1145.3 1052.5 1142.5C1046.9 1139.7 1041.3 1137.0 1035.6 1134.3C1030.0 1131.7 1024.3 1129.2 1018.5 1126.7C1012.8 1124.2 1007.0 1121.9 1001.2 1119.6C995.3 1117.3 989.5 1115.0 983.6 1112.9C977.7 1110.8 971.8 1108.7 965.8 1106.7C959.9 1104.7 953.9 1102.8 947.9 1101.0C941.9 1099.2 935.9 1097.4 929.8 1095.8C923.8 1094.1 917.7 1092.5 911.7 1091.0C905.6 1089.4 899.5 1088.0 893.4 1086.6C887.2 1085.2 881.1 1083.9 875.0 1082.6C868.8 1081.3 862.7 1080.2 856.5 1079.0C850.3 1077.9 844.2 1076.8 838.0 1075.8C831.8 1074.7 825.6 1073.8 819.3 1072.8C813.1 1071.9 806.9 1071.0 800.7 1070.2C794.5 1069.4 788.2 1068.6 782.0 1067.8C775.7 1067.0 769.5 1066.3 763.2 1065.6C756.9 1064.9 750.7 1064.3 744.4 1063.7C738.1 1063.0 731.9 1062.4 725.6 1061.9C719.3 1061.3 713.0 1060.7 706.8 1060.2C700.5 1059.6 694.2 1059.1 687.9 1058.6C681.6 1058.1 675.3 1057.6 669.0 1057.1C662.8 1056.6 656.5 1056.1 650.2 1055.6C643.9 1055.1 637.6 1054.7 631.4 1054.2C625.1 1053.7 618.8 1053.2 612.6 1052.7C606.3 1052.2 600.0 1051.7 593.8 1051.1C587.5 1050.6 581.3 1050.1 575.0 1049.5C568.8 1049.0 562.5 1048.4 556.3 1047.9C550.1 1047.3 543.8 1046.8 537.6 1046.2C531.4 1045.7 525.1 1045.1 518.9 1044.5C512.7 1044.0 506.5 1043.4 500.2 1042.9C494.0 1042.3 487.8 1041.8 481.6 1041.2C475.3 1040.7 469.1 1040.2 462.9 1039.7C456.7 1039.2 450.4 1038.7 444.2 1038.2C438.0 1037.8 431.7 1037.3 425.5 1036.9C419.3 1036.5 413.0 1036.1 406.8 1035.7C400.5 1035.3 394.3 1035.0 388.0 1034.6C381.7 1034.3 375.5 1034.0 369.2 1033.8C362.9 1033.5 356.7 1033.3 350.4 1033.1C344.1 1033.0 337.8 1032.8 331.5 1032.7C325.2 1032.6 318.8 1032.6 312.5 1032.6C306.2 1032.6 296.7 1032.7 293.5 1032.7" stroke="#008000" stroke-width="8"/>
</g>
<g font-size="73.5" fill="#000">
<text x="251" y="90.1" text-anchor="end">20</text>
<text x="251" y="559.1" text-anchor="end">10</text>
<text x="251" y="1028.1" text-anchor="end">0</text>
<text x="251" y="1497.1" text-anchor="end">-<tspan dx="-3">10</tspan></text>
<text x="293.5" y="1573.5" text-anchor="middle">0.0</text>
<text x="711.0" y="1573.5" text-anchor="middle">0.2</text>
<text x="1128.5" y="1573.5" text-anchor="middle">0.4</text>
<text x="1546.0" y="1573.5" text-anchor="middle">0.6</text>
<text x="1963.5" y="1573.5" text-anchor="middle">0.8</text>
</g>
<text x="789" y="1663.5" font-size="79">Potential / V (<tspan font-style="italic" dx="1.5">vs.</tspan><tspan dx="3"> Ag/AgCl)</tspan></text>
<text transform="translate(132 830.3) rotate(-90)" font-size="78.5" text-anchor="middle">Current / µA</text>
<path d="M505.5 110.5H665" stroke="#000000" stroke-width="13" stroke-linecap="round" fill="none"/>
<text x="683" y="134.3" font-size="72.5" word-spacing="-2.6">0 <tspan letter-spacing="-2.6">µmol</tspan><tspan dx="3"> L</tspan><tspan font-size="41" dy="-40" dx="-1.5">-1</tspan></text>
<path d="M505.5 214.9H665" stroke="#ff0000" stroke-width="7.3" stroke-linecap="round" fill="none"/>
<text x="683" y="238.7" font-size="72.5" word-spacing="-2.6">10 <tspan letter-spacing="-2.6">µmol</tspan><tspan dx="3"> L</tspan><tspan font-size="41" dy="-40" dx="-1.5">-1</tspan></text>
<path d="M505.5 319.3H665" stroke="#00ff00" stroke-width="7.3" stroke-linecap="round" fill="none"/>
<text x="683" y="343.1" font-size="72.5" word-spacing="-2.6">20 <tspan letter-spacing="-2.6">µmol</tspan><tspan dx="3"> L</tspan><tspan font-size="41" dy="-40" dx="-1.5">-1</tspan></text>
<path d="M505.5 423.7H665" stroke="#0000ff" stroke-width="7.3" stroke-linecap="round" fill="none"/>
<text x="683" y="447.5" font-size="72.5" word-spacing="-2.6">30 <tspan letter-spacing="-2.6">µmol</tspan><tspan dx="3"> L</tspan><tspan font-size="41" dy="-40" dx="-1.5">-1</tspan></text>
<path d="M505.5 528.1H665" stroke="#00ffff" stroke-width="7.3" stroke-linecap="round" fill="none"/>
<text x="683" y="551.9" font-size="72.5" word-spacing="-2.6">50 <tspan letter-spacing="-2.6">µmol</tspan><tspan dx="3"> L</tspan><tspan font-size="41" dy="-40" dx="-1.5">-1</tspan></text>
<path d="M505.5 632.5H665" stroke="#ff00ff" stroke-width="7.3" stroke-linecap="round" fill="none"/>
<text x="683" y="656.3" font-size="72.5" word-spacing="-2.6">100 <tspan letter-spacing="-2.6">µmol</tspan><tspan dx="3"> L</tspan><tspan font-size="41" dy="-40" dx="-1.5">-1</tspan></text>
<path d="M505.5 736.9H665" stroke="#800080" stroke-width="7.3" stroke-linecap="round" fill="none"/>
<text x="683" y="760.7" font-size="72.5" word-spacing="-2.6">150 <tspan letter-spacing="-2.6">µmol</tspan><tspan dx="3"> L</tspan><tspan font-size="41" dy="-40" dx="-1.5">-1</tspan></text>
<path d="M505.5 841.3H665" stroke="#ffff00" stroke-width="7.3" stroke-linecap="round" fill="none"/>
<text x="683" y="865.1" font-size="72.5" word-spacing="-2.6">200 <tspan letter-spacing="-2.6">µmol</tspan><tspan dx="3"> L</tspan><tspan font-size="41" dy="-40" dx="-1.5">-1</tspan></text>
<path d="M505.5 945.7H665" stroke="#008000" stroke-width="7.3" stroke-linecap="round" fill="none"/>
<text x="683" y="969.5" font-size="72.5" word-spacing="-2.6">250 <tspan letter-spacing="-2.6">µmol</tspan><tspan dx="3"> L</tspan><tspan font-size="41" dy="-40" dx="-1.5">-1</tspan></text>
</svg>
</body></html>
